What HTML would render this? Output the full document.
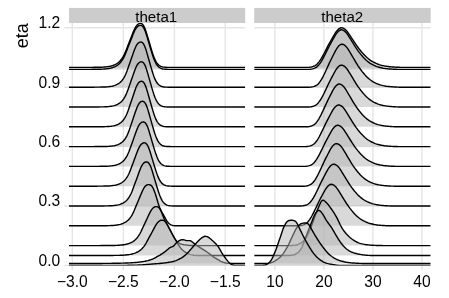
<!DOCTYPE html>
<html><head><meta charset="utf-8"><title>ridges</title>
<style>
html,body{margin:0;padding:0;background:#fff;}
body{width:449px;height:298px;overflow:hidden;font-family:"Liberation Sans",sans-serif;}
.t{font-family:"Liberation Sans",sans-serif;fill:#000;}
</style></head><body>
<svg width="449" height="298" viewBox="0 0 449 298" style="display:block;will-change:transform">
<rect width="449" height="298" fill="#fff"/>
<line x1="64.3" x2="245.2" y1="27.80" y2="27.80" stroke="#e5e5e5" stroke-width="1.4"/>
<line x1="64.3" x2="245.2" y1="87.20" y2="87.20" stroke="#e5e5e5" stroke-width="1.4"/>
<line x1="64.3" x2="245.2" y1="146.60" y2="146.60" stroke="#e5e5e5" stroke-width="1.4"/>
<line x1="64.3" x2="245.2" y1="206.00" y2="206.00" stroke="#e5e5e5" stroke-width="1.4"/>
<line x1="64.3" x2="245.2" y1="265.40" y2="265.40" stroke="#e5e5e5" stroke-width="1.4"/>
<line x1="72.3" x2="72.3" y1="23.0" y2="270.09999999999997" stroke="#e5e5e5" stroke-width="1.4"/>
<line x1="123.35" x2="123.35" y1="23.0" y2="270.09999999999997" stroke="#e5e5e5" stroke-width="1.4"/>
<line x1="174.4" x2="174.4" y1="23.0" y2="270.09999999999997" stroke="#e5e5e5" stroke-width="1.4"/>
<line x1="225.2" x2="225.2" y1="23.0" y2="270.09999999999997" stroke="#e5e5e5" stroke-width="1.4"/>
<line x1="254.2" x2="430.7" y1="27.80" y2="27.80" stroke="#e5e5e5" stroke-width="1.4"/>
<line x1="254.2" x2="430.7" y1="87.20" y2="87.20" stroke="#e5e5e5" stroke-width="1.4"/>
<line x1="254.2" x2="430.7" y1="146.60" y2="146.60" stroke="#e5e5e5" stroke-width="1.4"/>
<line x1="254.2" x2="430.7" y1="206.00" y2="206.00" stroke="#e5e5e5" stroke-width="1.4"/>
<line x1="254.2" x2="430.7" y1="265.40" y2="265.40" stroke="#e5e5e5" stroke-width="1.4"/>
<line x1="274.9" x2="274.9" y1="23.0" y2="270.09999999999997" stroke="#e5e5e5" stroke-width="1.4"/>
<line x1="323.9" x2="323.9" y1="23.0" y2="270.09999999999997" stroke="#e5e5e5" stroke-width="1.4"/>
<line x1="372.9" x2="372.9" y1="23.0" y2="270.09999999999997" stroke="#e5e5e5" stroke-width="1.4"/>
<line x1="421.9" x2="421.9" y1="23.0" y2="270.09999999999997" stroke="#e5e5e5" stroke-width="1.4"/>
<rect x="69.0" y="7.9" width="176.2" height="15.1" fill="#cccccc"/>
<text x="156.2" y="21.6" font-size="15.1" text-anchor="middle" class="t">theta1</text>
<rect x="254.2" y="7.9" width="176.5" height="15.1" fill="#cccccc"/>
<text x="342.2" y="21.6" font-size="15.1" text-anchor="middle" class="t">theta2</text>
<clipPath id="c1"><rect x="69.0" y="23.0" width="176.2" height="242.39999999999998"/></clipPath>
<g clip-path="url(#c1)">
<polygon points="69.0,67.40 69.0,67.40 70.0,67.40 71.0,67.40 72.0,67.40 73.0,67.40 74.0,67.40 75.0,67.40 76.0,67.40 77.0,67.40 78.0,67.40 79.0,67.40 80.0,67.40 81.0,67.40 82.0,67.40 83.0,67.40 84.0,67.40 85.0,67.39 86.0,67.39 87.0,67.38 88.0,67.38 89.0,67.37 90.0,67.37 91.0,67.36 92.0,67.35 93.0,67.34 94.0,67.33 95.0,67.32 96.0,67.30 97.0,67.29 98.0,67.27 99.0,67.26 100.0,67.24 101.0,67.21 102.0,67.18 103.0,67.13 104.0,67.06 105.0,66.97 106.0,66.86 107.0,66.74 108.0,66.61 109.0,66.45 110.0,66.27 111.0,66.04 112.0,65.75 113.0,65.41 114.0,65.02 115.0,64.58 116.0,64.09 117.0,63.51 118.0,62.82 119.0,62.00 120.0,61.01 121.0,59.83 122.0,58.47 123.0,56.90 124.0,55.07 125.0,52.91 126.0,50.47 127.0,47.89 128.0,45.32 129.0,42.80 130.0,40.30 131.0,37.75 132.0,35.16 133.0,32.60 134.0,30.20 135.0,28.09 136.0,26.38 137.0,25.12 138.0,24.25 139.0,23.69 140.0,23.40 141.0,23.41 142.0,23.82 143.0,24.77 144.0,26.36 145.0,28.61 146.0,31.44 147.0,34.67 148.0,38.06 149.0,41.44 150.0,44.78 151.0,48.11 152.0,51.37 153.0,54.44 154.0,57.20 155.0,59.57 156.0,61.53 157.0,63.09 158.0,64.31 159.0,65.24 160.0,65.92 161.0,66.41 162.0,66.76 163.0,67.00 164.0,67.16 165.0,67.25 166.0,67.31 167.0,67.35 168.0,67.37 169.0,67.39 170.0,67.40 171.0,67.40 172.0,67.40 173.0,67.40 174.0,67.40 175.0,67.40 176.0,67.40 177.0,67.40 178.0,67.40 179.0,67.40 180.0,67.40 181.0,67.40 182.0,67.40 183.0,67.40 184.0,67.40 185.0,67.40 186.0,67.40 187.0,67.40 188.0,67.40 189.0,67.40 190.0,67.40 191.0,67.40 192.0,67.40 193.0,67.40 194.0,67.40 195.0,67.40 196.0,67.40 197.0,67.40 198.0,67.40 199.0,67.40 200.0,67.40 201.0,67.40 202.0,67.40 203.0,67.40 204.0,67.40 205.0,67.40 206.0,67.40 207.0,67.40 208.0,67.40 209.0,67.40 210.0,67.40 211.0,67.40 212.0,67.40 213.0,67.40 214.0,67.40 215.0,67.40 216.0,67.40 217.0,67.40 218.0,67.40 219.0,67.40 220.0,67.40 221.0,67.40 222.0,67.40 223.0,67.40 224.0,67.40 225.0,67.40 226.0,67.40 227.0,67.40 228.0,67.40 229.0,67.40 230.0,67.40 231.0,67.40 232.0,67.40 233.0,67.40 234.0,67.40 235.0,67.40 236.0,67.40 237.0,67.40 238.0,67.40 239.0,67.40 240.0,67.40 241.0,67.40 242.0,67.40 243.0,67.40 244.0,67.40 245.2,67.40 245.2,67.40" fill="#b3b3b3" fill-opacity="0.5"/>
<polyline points="69.0,67.40 70.0,67.40 71.0,67.40 72.0,67.40 73.0,67.40 74.0,67.40 75.0,67.40 76.0,67.40 77.0,67.40 78.0,67.40 79.0,67.40 80.0,67.40 81.0,67.40 82.0,67.40 83.0,67.40 84.0,67.40 85.0,67.39 86.0,67.39 87.0,67.38 88.0,67.38 89.0,67.37 90.0,67.37 91.0,67.36 92.0,67.35 93.0,67.34 94.0,67.33 95.0,67.32 96.0,67.30 97.0,67.29 98.0,67.27 99.0,67.26 100.0,67.24 101.0,67.21 102.0,67.18 103.0,67.13 104.0,67.06 105.0,66.97 106.0,66.86 107.0,66.74 108.0,66.61 109.0,66.45 110.0,66.27 111.0,66.04 112.0,65.75 113.0,65.41 114.0,65.02 115.0,64.58 116.0,64.09 117.0,63.51 118.0,62.82 119.0,62.00 120.0,61.01 121.0,59.83 122.0,58.47 123.0,56.90 124.0,55.07 125.0,52.91 126.0,50.47 127.0,47.89 128.0,45.32 129.0,42.80 130.0,40.30 131.0,37.75 132.0,35.16 133.0,32.60 134.0,30.20 135.0,28.09 136.0,26.38 137.0,25.12 138.0,24.25 139.0,23.69 140.0,23.40 141.0,23.41 142.0,23.82 143.0,24.77 144.0,26.36 145.0,28.61 146.0,31.44 147.0,34.67 148.0,38.06 149.0,41.44 150.0,44.78 151.0,48.11 152.0,51.37 153.0,54.44 154.0,57.20 155.0,59.57 156.0,61.53 157.0,63.09 158.0,64.31 159.0,65.24 160.0,65.92 161.0,66.41 162.0,66.76 163.0,67.00 164.0,67.16 165.0,67.25 166.0,67.31 167.0,67.35 168.0,67.37 169.0,67.39 170.0,67.40 171.0,67.40 172.0,67.40 173.0,67.40 174.0,67.40 175.0,67.40 176.0,67.40 177.0,67.40 178.0,67.40 179.0,67.40 180.0,67.40 181.0,67.40 182.0,67.40 183.0,67.40 184.0,67.40 185.0,67.40 186.0,67.40 187.0,67.40 188.0,67.40 189.0,67.40 190.0,67.40 191.0,67.40 192.0,67.40 193.0,67.40 194.0,67.40 195.0,67.40 196.0,67.40 197.0,67.40 198.0,67.40 199.0,67.40 200.0,67.40 201.0,67.40 202.0,67.40 203.0,67.40 204.0,67.40 205.0,67.40 206.0,67.40 207.0,67.40 208.0,67.40 209.0,67.40 210.0,67.40 211.0,67.40 212.0,67.40 213.0,67.40 214.0,67.40 215.0,67.40 216.0,67.40 217.0,67.40 218.0,67.40 219.0,67.40 220.0,67.40 221.0,67.40 222.0,67.40 223.0,67.40 224.0,67.40 225.0,67.40 226.0,67.40 227.0,67.40 228.0,67.40 229.0,67.40 230.0,67.40 231.0,67.40 232.0,67.40 233.0,67.40 234.0,67.40 235.0,67.40 236.0,67.40 237.0,67.40 238.0,67.40 239.0,67.40 240.0,67.40 241.0,67.40 242.0,67.40 243.0,67.40 244.0,67.40 245.2,67.40" fill="none" stroke="#000" stroke-width="1.42" stroke-linejoin="round"/>
<polygon points="69.0,69.38 69.0,69.38 70.0,69.38 71.0,69.38 72.0,69.38 73.0,69.38 74.0,69.38 75.0,69.38 76.0,69.38 77.0,69.38 78.0,69.38 79.0,69.38 80.0,69.38 81.0,69.38 82.0,69.38 83.0,69.38 84.0,69.38 85.0,69.37 86.0,69.37 87.0,69.36 88.0,69.36 89.0,69.35 90.0,69.35 91.0,69.34 92.0,69.33 93.0,69.32 94.0,69.31 95.0,69.30 96.0,69.28 97.0,69.27 98.0,69.25 99.0,69.24 100.0,69.22 101.0,69.19 102.0,69.16 103.0,69.11 104.0,69.04 105.0,68.95 106.0,68.84 107.0,68.72 108.0,68.59 109.0,68.43 110.0,68.25 111.0,68.02 112.0,67.73 113.0,67.39 114.0,67.00 115.0,66.56 116.0,66.07 117.0,65.49 118.0,64.80 119.0,63.98 120.0,62.99 121.0,61.81 122.0,60.45 123.0,58.88 124.0,57.05 125.0,54.89 126.0,52.45 127.0,49.87 128.0,47.30 129.0,44.78 130.0,42.28 131.0,39.73 132.0,37.14 133.0,34.58 134.0,32.18 135.0,30.07 136.0,28.36 137.0,27.10 138.0,26.23 139.0,25.67 140.0,25.38 141.0,25.39 142.0,25.80 143.0,26.75 144.0,28.34 145.0,30.59 146.0,33.42 147.0,36.65 148.0,40.04 149.0,43.42 150.0,46.76 151.0,50.09 152.0,53.35 153.0,56.42 154.0,59.18 155.0,61.55 156.0,63.51 157.0,65.07 158.0,66.29 159.0,67.22 160.0,67.90 161.0,68.39 162.0,68.74 163.0,68.98 164.0,69.14 165.0,69.23 166.0,69.29 167.0,69.33 168.0,69.35 169.0,69.37 170.0,69.38 171.0,69.38 172.0,69.38 173.0,69.38 174.0,69.38 175.0,69.38 176.0,69.38 177.0,69.38 178.0,69.38 179.0,69.38 180.0,69.38 181.0,69.38 182.0,69.38 183.0,69.38 184.0,69.38 185.0,69.38 186.0,69.38 187.0,69.38 188.0,69.38 189.0,69.38 190.0,69.38 191.0,69.38 192.0,69.38 193.0,69.38 194.0,69.38 195.0,69.38 196.0,69.38 197.0,69.38 198.0,69.38 199.0,69.38 200.0,69.38 201.0,69.38 202.0,69.38 203.0,69.38 204.0,69.38 205.0,69.38 206.0,69.38 207.0,69.38 208.0,69.38 209.0,69.38 210.0,69.38 211.0,69.38 212.0,69.38 213.0,69.38 214.0,69.38 215.0,69.38 216.0,69.38 217.0,69.38 218.0,69.38 219.0,69.38 220.0,69.38 221.0,69.38 222.0,69.38 223.0,69.38 224.0,69.38 225.0,69.38 226.0,69.38 227.0,69.38 228.0,69.38 229.0,69.38 230.0,69.38 231.0,69.38 232.0,69.38 233.0,69.38 234.0,69.38 235.0,69.38 236.0,69.38 237.0,69.38 238.0,69.38 239.0,69.38 240.0,69.38 241.0,69.38 242.0,69.38 243.0,69.38 244.0,69.38 245.2,69.38 245.2,69.38" fill="#b3b3b3" fill-opacity="0.5"/>
<polyline points="69.0,69.38 70.0,69.38 71.0,69.38 72.0,69.38 73.0,69.38 74.0,69.38 75.0,69.38 76.0,69.38 77.0,69.38 78.0,69.38 79.0,69.38 80.0,69.38 81.0,69.38 82.0,69.38 83.0,69.38 84.0,69.38 85.0,69.37 86.0,69.37 87.0,69.36 88.0,69.36 89.0,69.35 90.0,69.35 91.0,69.34 92.0,69.33 93.0,69.32 94.0,69.31 95.0,69.30 96.0,69.28 97.0,69.27 98.0,69.25 99.0,69.24 100.0,69.22 101.0,69.19 102.0,69.16 103.0,69.11 104.0,69.04 105.0,68.95 106.0,68.84 107.0,68.72 108.0,68.59 109.0,68.43 110.0,68.25 111.0,68.02 112.0,67.73 113.0,67.39 114.0,67.00 115.0,66.56 116.0,66.07 117.0,65.49 118.0,64.80 119.0,63.98 120.0,62.99 121.0,61.81 122.0,60.45 123.0,58.88 124.0,57.05 125.0,54.89 126.0,52.45 127.0,49.87 128.0,47.30 129.0,44.78 130.0,42.28 131.0,39.73 132.0,37.14 133.0,34.58 134.0,32.18 135.0,30.07 136.0,28.36 137.0,27.10 138.0,26.23 139.0,25.67 140.0,25.38 141.0,25.39 142.0,25.80 143.0,26.75 144.0,28.34 145.0,30.59 146.0,33.42 147.0,36.65 148.0,40.04 149.0,43.42 150.0,46.76 151.0,50.09 152.0,53.35 153.0,56.42 154.0,59.18 155.0,61.55 156.0,63.51 157.0,65.07 158.0,66.29 159.0,67.22 160.0,67.90 161.0,68.39 162.0,68.74 163.0,68.98 164.0,69.14 165.0,69.23 166.0,69.29 167.0,69.33 168.0,69.35 169.0,69.37 170.0,69.38 171.0,69.38 172.0,69.38 173.0,69.38 174.0,69.38 175.0,69.38 176.0,69.38 177.0,69.38 178.0,69.38 179.0,69.38 180.0,69.38 181.0,69.38 182.0,69.38 183.0,69.38 184.0,69.38 185.0,69.38 186.0,69.38 187.0,69.38 188.0,69.38 189.0,69.38 190.0,69.38 191.0,69.38 192.0,69.38 193.0,69.38 194.0,69.38 195.0,69.38 196.0,69.38 197.0,69.38 198.0,69.38 199.0,69.38 200.0,69.38 201.0,69.38 202.0,69.38 203.0,69.38 204.0,69.38 205.0,69.38 206.0,69.38 207.0,69.38 208.0,69.38 209.0,69.38 210.0,69.38 211.0,69.38 212.0,69.38 213.0,69.38 214.0,69.38 215.0,69.38 216.0,69.38 217.0,69.38 218.0,69.38 219.0,69.38 220.0,69.38 221.0,69.38 222.0,69.38 223.0,69.38 224.0,69.38 225.0,69.38 226.0,69.38 227.0,69.38 228.0,69.38 229.0,69.38 230.0,69.38 231.0,69.38 232.0,69.38 233.0,69.38 234.0,69.38 235.0,69.38 236.0,69.38 237.0,69.38 238.0,69.38 239.0,69.38 240.0,69.38 241.0,69.38 242.0,69.38 243.0,69.38 244.0,69.38 245.2,69.38" fill="none" stroke="#000" stroke-width="1.42" stroke-linejoin="round"/>
<polygon points="69.0,87.20 69.0,87.20 70.0,87.20 71.0,87.20 72.0,87.20 73.0,87.20 74.0,87.20 75.0,87.20 76.0,87.20 77.0,87.20 78.0,87.20 79.0,87.20 80.0,87.20 81.0,87.20 82.0,87.20 83.0,87.20 84.0,87.20 85.0,87.20 86.0,87.20 87.0,87.20 88.0,87.20 89.0,87.20 90.0,87.19 91.0,87.19 92.0,87.18 93.0,87.18 94.0,87.17 95.0,87.16 96.0,87.15 97.0,87.14 98.0,87.13 99.0,87.11 100.0,87.10 101.0,87.08 102.0,87.06 103.0,87.05 104.0,87.02 105.0,86.99 106.0,86.94 107.0,86.86 108.0,86.77 109.0,86.65 110.0,86.52 111.0,86.37 112.0,86.19 113.0,85.97 114.0,85.69 115.0,85.34 116.0,84.93 117.0,84.46 118.0,83.93 119.0,83.30 120.0,82.54 121.0,81.62 122.0,80.50 123.0,79.15 124.0,77.58 125.0,75.72 126.0,73.52 127.0,70.95 128.0,68.13 129.0,65.25 130.0,62.42 131.0,59.61 132.0,56.76 133.0,53.87 134.0,51.04 135.0,48.43 136.0,46.22 137.0,44.51 138.0,43.31 139.0,42.53 140.0,42.09 141.0,42.00 142.0,42.33 143.0,43.20 144.0,44.75 145.0,46.99 146.0,49.85 147.0,53.17 148.0,56.69 149.0,60.21 150.0,63.70 151.0,67.16 152.0,70.56 153.0,73.77 154.0,76.65 155.0,79.13 156.0,81.17 157.0,82.79 158.0,84.05 159.0,85.01 160.0,85.71 161.0,86.21 162.0,86.56 163.0,86.80 164.0,86.96 165.0,87.05 166.0,87.11 167.0,87.15 168.0,87.18 169.0,87.19 170.0,87.20 171.0,87.20 172.0,87.20 173.0,87.20 174.0,87.20 175.0,87.20 176.0,87.20 177.0,87.20 178.0,87.20 179.0,87.20 180.0,87.20 181.0,87.20 182.0,87.20 183.0,87.20 184.0,87.20 185.0,87.20 186.0,87.20 187.0,87.20 188.0,87.20 189.0,87.20 190.0,87.20 191.0,87.20 192.0,87.20 193.0,87.20 194.0,87.20 195.0,87.20 196.0,87.20 197.0,87.20 198.0,87.20 199.0,87.20 200.0,87.20 201.0,87.20 202.0,87.20 203.0,87.20 204.0,87.20 205.0,87.20 206.0,87.20 207.0,87.20 208.0,87.20 209.0,87.20 210.0,87.20 211.0,87.20 212.0,87.20 213.0,87.20 214.0,87.20 215.0,87.20 216.0,87.20 217.0,87.20 218.0,87.20 219.0,87.20 220.0,87.20 221.0,87.20 222.0,87.20 223.0,87.20 224.0,87.20 225.0,87.20 226.0,87.20 227.0,87.20 228.0,87.20 229.0,87.20 230.0,87.20 231.0,87.20 232.0,87.20 233.0,87.20 234.0,87.20 235.0,87.20 236.0,87.20 237.0,87.20 238.0,87.20 239.0,87.20 240.0,87.20 241.0,87.20 242.0,87.20 243.0,87.20 244.0,87.20 245.2,87.20 245.2,87.20" fill="#b3b3b3" fill-opacity="0.5"/>
<polyline points="69.0,87.20 70.0,87.20 71.0,87.20 72.0,87.20 73.0,87.20 74.0,87.20 75.0,87.20 76.0,87.20 77.0,87.20 78.0,87.20 79.0,87.20 80.0,87.20 81.0,87.20 82.0,87.20 83.0,87.20 84.0,87.20 85.0,87.20 86.0,87.20 87.0,87.20 88.0,87.20 89.0,87.20 90.0,87.19 91.0,87.19 92.0,87.18 93.0,87.18 94.0,87.17 95.0,87.16 96.0,87.15 97.0,87.14 98.0,87.13 99.0,87.11 100.0,87.10 101.0,87.08 102.0,87.06 103.0,87.05 104.0,87.02 105.0,86.99 106.0,86.94 107.0,86.86 108.0,86.77 109.0,86.65 110.0,86.52 111.0,86.37 112.0,86.19 113.0,85.97 114.0,85.69 115.0,85.34 116.0,84.93 117.0,84.46 118.0,83.93 119.0,83.30 120.0,82.54 121.0,81.62 122.0,80.50 123.0,79.15 124.0,77.58 125.0,75.72 126.0,73.52 127.0,70.95 128.0,68.13 129.0,65.25 130.0,62.42 131.0,59.61 132.0,56.76 133.0,53.87 134.0,51.04 135.0,48.43 136.0,46.22 137.0,44.51 138.0,43.31 139.0,42.53 140.0,42.09 141.0,42.00 142.0,42.33 143.0,43.20 144.0,44.75 145.0,46.99 146.0,49.85 147.0,53.17 148.0,56.69 149.0,60.21 150.0,63.70 151.0,67.16 152.0,70.56 153.0,73.77 154.0,76.65 155.0,79.13 156.0,81.17 157.0,82.79 158.0,84.05 159.0,85.01 160.0,85.71 161.0,86.21 162.0,86.56 163.0,86.80 164.0,86.96 165.0,87.05 166.0,87.11 167.0,87.15 168.0,87.18 169.0,87.19 170.0,87.20 171.0,87.20 172.0,87.20 173.0,87.20 174.0,87.20 175.0,87.20 176.0,87.20 177.0,87.20 178.0,87.20 179.0,87.20 180.0,87.20 181.0,87.20 182.0,87.20 183.0,87.20 184.0,87.20 185.0,87.20 186.0,87.20 187.0,87.20 188.0,87.20 189.0,87.20 190.0,87.20 191.0,87.20 192.0,87.20 193.0,87.20 194.0,87.20 195.0,87.20 196.0,87.20 197.0,87.20 198.0,87.20 199.0,87.20 200.0,87.20 201.0,87.20 202.0,87.20 203.0,87.20 204.0,87.20 205.0,87.20 206.0,87.20 207.0,87.20 208.0,87.20 209.0,87.20 210.0,87.20 211.0,87.20 212.0,87.20 213.0,87.20 214.0,87.20 215.0,87.20 216.0,87.20 217.0,87.20 218.0,87.20 219.0,87.20 220.0,87.20 221.0,87.20 222.0,87.20 223.0,87.20 224.0,87.20 225.0,87.20 226.0,87.20 227.0,87.20 228.0,87.20 229.0,87.20 230.0,87.20 231.0,87.20 232.0,87.20 233.0,87.20 234.0,87.20 235.0,87.20 236.0,87.20 237.0,87.20 238.0,87.20 239.0,87.20 240.0,87.20 241.0,87.20 242.0,87.20 243.0,87.20 244.0,87.20 245.2,87.20" fill="none" stroke="#000" stroke-width="1.42" stroke-linejoin="round"/>
<polygon points="69.0,107.00 69.0,107.00 70.0,107.00 71.0,107.00 72.0,107.00 73.0,107.00 74.0,107.00 75.0,107.00 76.0,107.00 77.0,107.00 78.0,107.00 79.0,107.00 80.0,107.00 81.0,107.00 82.0,107.00 83.0,107.00 84.0,107.00 85.0,107.00 86.0,107.00 87.0,107.00 88.0,107.00 89.0,107.00 90.0,106.99 91.0,106.99 92.0,106.99 93.0,106.98 94.0,106.97 95.0,106.96 96.0,106.96 97.0,106.94 98.0,106.93 99.0,106.92 100.0,106.91 101.0,106.89 102.0,106.88 103.0,106.86 104.0,106.84 105.0,106.81 106.0,106.77 107.0,106.71 108.0,106.63 109.0,106.53 110.0,106.40 111.0,106.26 112.0,106.10 113.0,105.91 114.0,105.67 115.0,105.36 116.0,104.99 117.0,104.55 118.0,104.06 119.0,103.49 120.0,102.81 121.0,101.99 122.0,100.99 123.0,99.79 124.0,98.35 125.0,96.67 126.0,94.68 127.0,92.32 128.0,89.63 129.0,86.77 130.0,83.91 131.0,81.09 132.0,78.27 133.0,75.39 134.0,72.51 135.0,69.75 136.0,67.28 137.0,65.26 138.0,63.76 139.0,62.74 140.0,62.10 141.0,61.80 142.0,61.86 143.0,62.39 144.0,63.52 145.0,65.35 146.0,67.86 147.0,70.93 148.0,74.36 149.0,77.90 150.0,81.40 151.0,84.88 152.0,88.33 153.0,91.67 154.0,94.76 155.0,97.49 156.0,99.79 157.0,101.66 158.0,103.13 159.0,104.27 160.0,105.12 161.0,105.73 162.0,106.16 163.0,106.47 164.0,106.68 165.0,106.80 166.0,106.88 167.0,106.93 168.0,106.96 169.0,106.98 170.0,106.99 171.0,107.00 172.0,107.00 173.0,107.00 174.0,107.00 175.0,107.00 176.0,107.00 177.0,107.00 178.0,107.00 179.0,107.00 180.0,107.00 181.0,107.00 182.0,107.00 183.0,107.00 184.0,107.00 185.0,107.00 186.0,107.00 187.0,107.00 188.0,107.00 189.0,107.00 190.0,107.00 191.0,107.00 192.0,107.00 193.0,107.00 194.0,107.00 195.0,107.00 196.0,107.00 197.0,107.00 198.0,107.00 199.0,107.00 200.0,107.00 201.0,107.00 202.0,107.00 203.0,107.00 204.0,107.00 205.0,107.00 206.0,107.00 207.0,107.00 208.0,107.00 209.0,107.00 210.0,107.00 211.0,107.00 212.0,107.00 213.0,107.00 214.0,107.00 215.0,107.00 216.0,107.00 217.0,107.00 218.0,107.00 219.0,107.00 220.0,107.00 221.0,107.00 222.0,107.00 223.0,107.00 224.0,107.00 225.0,107.00 226.0,107.00 227.0,107.00 228.0,107.00 229.0,107.00 230.0,107.00 231.0,107.00 232.0,107.00 233.0,107.00 234.0,107.00 235.0,107.00 236.0,107.00 237.0,107.00 238.0,107.00 239.0,107.00 240.0,107.00 241.0,107.00 242.0,107.00 243.0,107.00 244.0,107.00 245.2,107.00 245.2,107.00" fill="#b3b3b3" fill-opacity="0.5"/>
<polyline points="69.0,107.00 70.0,107.00 71.0,107.00 72.0,107.00 73.0,107.00 74.0,107.00 75.0,107.00 76.0,107.00 77.0,107.00 78.0,107.00 79.0,107.00 80.0,107.00 81.0,107.00 82.0,107.00 83.0,107.00 84.0,107.00 85.0,107.00 86.0,107.00 87.0,107.00 88.0,107.00 89.0,107.00 90.0,106.99 91.0,106.99 92.0,106.99 93.0,106.98 94.0,106.97 95.0,106.96 96.0,106.96 97.0,106.94 98.0,106.93 99.0,106.92 100.0,106.91 101.0,106.89 102.0,106.88 103.0,106.86 104.0,106.84 105.0,106.81 106.0,106.77 107.0,106.71 108.0,106.63 109.0,106.53 110.0,106.40 111.0,106.26 112.0,106.10 113.0,105.91 114.0,105.67 115.0,105.36 116.0,104.99 117.0,104.55 118.0,104.06 119.0,103.49 120.0,102.81 121.0,101.99 122.0,100.99 123.0,99.79 124.0,98.35 125.0,96.67 126.0,94.68 127.0,92.32 128.0,89.63 129.0,86.77 130.0,83.91 131.0,81.09 132.0,78.27 133.0,75.39 134.0,72.51 135.0,69.75 136.0,67.28 137.0,65.26 138.0,63.76 139.0,62.74 140.0,62.10 141.0,61.80 142.0,61.86 143.0,62.39 144.0,63.52 145.0,65.35 146.0,67.86 147.0,70.93 148.0,74.36 149.0,77.90 150.0,81.40 151.0,84.88 152.0,88.33 153.0,91.67 154.0,94.76 155.0,97.49 156.0,99.79 157.0,101.66 158.0,103.13 159.0,104.27 160.0,105.12 161.0,105.73 162.0,106.16 163.0,106.47 164.0,106.68 165.0,106.80 166.0,106.88 167.0,106.93 168.0,106.96 169.0,106.98 170.0,106.99 171.0,107.00 172.0,107.00 173.0,107.00 174.0,107.00 175.0,107.00 176.0,107.00 177.0,107.00 178.0,107.00 179.0,107.00 180.0,107.00 181.0,107.00 182.0,107.00 183.0,107.00 184.0,107.00 185.0,107.00 186.0,107.00 187.0,107.00 188.0,107.00 189.0,107.00 190.0,107.00 191.0,107.00 192.0,107.00 193.0,107.00 194.0,107.00 195.0,107.00 196.0,107.00 197.0,107.00 198.0,107.00 199.0,107.00 200.0,107.00 201.0,107.00 202.0,107.00 203.0,107.00 204.0,107.00 205.0,107.00 206.0,107.00 207.0,107.00 208.0,107.00 209.0,107.00 210.0,107.00 211.0,107.00 212.0,107.00 213.0,107.00 214.0,107.00 215.0,107.00 216.0,107.00 217.0,107.00 218.0,107.00 219.0,107.00 220.0,107.00 221.0,107.00 222.0,107.00 223.0,107.00 224.0,107.00 225.0,107.00 226.0,107.00 227.0,107.00 228.0,107.00 229.0,107.00 230.0,107.00 231.0,107.00 232.0,107.00 233.0,107.00 234.0,107.00 235.0,107.00 236.0,107.00 237.0,107.00 238.0,107.00 239.0,107.00 240.0,107.00 241.0,107.00 242.0,107.00 243.0,107.00 244.0,107.00 245.2,107.00" fill="none" stroke="#000" stroke-width="1.42" stroke-linejoin="round"/>
<polygon points="69.0,126.80 69.0,126.80 70.0,126.80 71.0,126.80 72.0,126.80 73.0,126.80 74.0,126.80 75.0,126.80 76.0,126.80 77.0,126.80 78.0,126.80 79.0,126.80 80.0,126.80 81.0,126.80 82.0,126.80 83.0,126.80 84.0,126.80 85.0,126.80 86.0,126.80 87.0,126.80 88.0,126.80 89.0,126.80 90.0,126.80 91.0,126.80 92.0,126.79 93.0,126.79 94.0,126.78 95.0,126.78 96.0,126.77 97.0,126.76 98.0,126.75 99.0,126.74 100.0,126.73 101.0,126.71 102.0,126.70 103.0,126.68 104.0,126.67 105.0,126.65 106.0,126.62 107.0,126.58 108.0,126.53 109.0,126.45 110.0,126.35 111.0,126.23 112.0,126.08 113.0,125.92 114.0,125.72 115.0,125.47 116.0,125.16 117.0,124.77 118.0,124.32 119.0,123.80 120.0,123.19 121.0,122.47 122.0,121.58 123.0,120.50 124.0,119.18 125.0,117.61 126.0,115.76 127.0,113.56 128.0,110.96 129.0,108.06 130.0,105.06 131.0,102.09 132.0,99.15 133.0,96.18 134.0,93.16 135.0,90.23 136.0,87.54 137.0,85.29 138.0,83.58 139.0,82.40 140.0,81.67 141.0,81.30 142.0,81.31 143.0,81.79 144.0,82.87 145.0,84.65 146.0,87.13 147.0,90.19 148.0,93.63 149.0,97.21 150.0,100.76 151.0,104.27 152.0,107.77 153.0,111.15 154.0,114.29 155.0,117.07 156.0,119.43 157.0,121.33 158.0,122.84 159.0,124.00 160.0,124.88 161.0,125.50 162.0,125.94 163.0,126.26 164.0,126.47 165.0,126.60 166.0,126.68 167.0,126.73 168.0,126.76 169.0,126.78 170.0,126.79 171.0,126.80 172.0,126.80 173.0,126.80 174.0,126.80 175.0,126.80 176.0,126.80 177.0,126.80 178.0,126.80 179.0,126.80 180.0,126.80 181.0,126.80 182.0,126.80 183.0,126.80 184.0,126.80 185.0,126.80 186.0,126.80 187.0,126.80 188.0,126.80 189.0,126.80 190.0,126.80 191.0,126.80 192.0,126.80 193.0,126.80 194.0,126.80 195.0,126.80 196.0,126.80 197.0,126.80 198.0,126.80 199.0,126.80 200.0,126.80 201.0,126.80 202.0,126.80 203.0,126.80 204.0,126.80 205.0,126.80 206.0,126.80 207.0,126.80 208.0,126.80 209.0,126.80 210.0,126.80 211.0,126.80 212.0,126.80 213.0,126.80 214.0,126.80 215.0,126.80 216.0,126.80 217.0,126.80 218.0,126.80 219.0,126.80 220.0,126.80 221.0,126.80 222.0,126.80 223.0,126.80 224.0,126.80 225.0,126.80 226.0,126.80 227.0,126.80 228.0,126.80 229.0,126.80 230.0,126.80 231.0,126.80 232.0,126.80 233.0,126.80 234.0,126.80 235.0,126.80 236.0,126.80 237.0,126.80 238.0,126.80 239.0,126.80 240.0,126.80 241.0,126.80 242.0,126.80 243.0,126.80 244.0,126.80 245.2,126.80 245.2,126.80" fill="#b3b3b3" fill-opacity="0.5"/>
<polyline points="69.0,126.80 70.0,126.80 71.0,126.80 72.0,126.80 73.0,126.80 74.0,126.80 75.0,126.80 76.0,126.80 77.0,126.80 78.0,126.80 79.0,126.80 80.0,126.80 81.0,126.80 82.0,126.80 83.0,126.80 84.0,126.80 85.0,126.80 86.0,126.80 87.0,126.80 88.0,126.80 89.0,126.80 90.0,126.80 91.0,126.80 92.0,126.79 93.0,126.79 94.0,126.78 95.0,126.78 96.0,126.77 97.0,126.76 98.0,126.75 99.0,126.74 100.0,126.73 101.0,126.71 102.0,126.70 103.0,126.68 104.0,126.67 105.0,126.65 106.0,126.62 107.0,126.58 108.0,126.53 109.0,126.45 110.0,126.35 111.0,126.23 112.0,126.08 113.0,125.92 114.0,125.72 115.0,125.47 116.0,125.16 117.0,124.77 118.0,124.32 119.0,123.80 120.0,123.19 121.0,122.47 122.0,121.58 123.0,120.50 124.0,119.18 125.0,117.61 126.0,115.76 127.0,113.56 128.0,110.96 129.0,108.06 130.0,105.06 131.0,102.09 132.0,99.15 133.0,96.18 134.0,93.16 135.0,90.23 136.0,87.54 137.0,85.29 138.0,83.58 139.0,82.40 140.0,81.67 141.0,81.30 142.0,81.31 143.0,81.79 144.0,82.87 145.0,84.65 146.0,87.13 147.0,90.19 148.0,93.63 149.0,97.21 150.0,100.76 151.0,104.27 152.0,107.77 153.0,111.15 154.0,114.29 155.0,117.07 156.0,119.43 157.0,121.33 158.0,122.84 159.0,124.00 160.0,124.88 161.0,125.50 162.0,125.94 163.0,126.26 164.0,126.47 165.0,126.60 166.0,126.68 167.0,126.73 168.0,126.76 169.0,126.78 170.0,126.79 171.0,126.80 172.0,126.80 173.0,126.80 174.0,126.80 175.0,126.80 176.0,126.80 177.0,126.80 178.0,126.80 179.0,126.80 180.0,126.80 181.0,126.80 182.0,126.80 183.0,126.80 184.0,126.80 185.0,126.80 186.0,126.80 187.0,126.80 188.0,126.80 189.0,126.80 190.0,126.80 191.0,126.80 192.0,126.80 193.0,126.80 194.0,126.80 195.0,126.80 196.0,126.80 197.0,126.80 198.0,126.80 199.0,126.80 200.0,126.80 201.0,126.80 202.0,126.80 203.0,126.80 204.0,126.80 205.0,126.80 206.0,126.80 207.0,126.80 208.0,126.80 209.0,126.80 210.0,126.80 211.0,126.80 212.0,126.80 213.0,126.80 214.0,126.80 215.0,126.80 216.0,126.80 217.0,126.80 218.0,126.80 219.0,126.80 220.0,126.80 221.0,126.80 222.0,126.80 223.0,126.80 224.0,126.80 225.0,126.80 226.0,126.80 227.0,126.80 228.0,126.80 229.0,126.80 230.0,126.80 231.0,126.80 232.0,126.80 233.0,126.80 234.0,126.80 235.0,126.80 236.0,126.80 237.0,126.80 238.0,126.80 239.0,126.80 240.0,126.80 241.0,126.80 242.0,126.80 243.0,126.80 244.0,126.80 245.2,126.80" fill="none" stroke="#000" stroke-width="1.42" stroke-linejoin="round"/>
<polygon points="69.0,146.60 69.0,146.60 70.0,146.60 71.0,146.60 72.0,146.60 73.0,146.60 74.0,146.60 75.0,146.60 76.0,146.60 77.0,146.60 78.0,146.60 79.0,146.60 80.0,146.60 81.0,146.60 82.0,146.60 83.0,146.60 84.0,146.60 85.0,146.60 86.0,146.60 87.0,146.60 88.0,146.60 89.0,146.60 90.0,146.60 91.0,146.60 92.0,146.60 93.0,146.59 94.0,146.59 95.0,146.58 96.0,146.58 97.0,146.57 98.0,146.56 99.0,146.55 100.0,146.54 101.0,146.53 102.0,146.51 103.0,146.50 104.0,146.48 105.0,146.46 106.0,146.44 107.0,146.42 108.0,146.38 109.0,146.33 110.0,146.25 111.0,146.14 112.0,146.02 113.0,145.88 114.0,145.71 115.0,145.51 116.0,145.26 117.0,144.95 118.0,144.56 119.0,144.10 120.0,143.58 121.0,142.98 122.0,142.25 123.0,141.36 124.0,140.27 125.0,138.96 126.0,137.39 127.0,135.54 128.0,133.34 129.0,130.74 130.0,127.86 131.0,124.88 132.0,121.93 133.0,119.01 134.0,116.05 135.0,113.06 136.0,110.15 137.0,107.48 138.0,105.25 139.0,103.56 140.0,102.39 141.0,101.67 142.0,101.30 143.0,101.31 144.0,101.78 145.0,102.86 146.0,104.62 147.0,107.08 148.0,110.11 149.0,113.53 150.0,117.08 151.0,120.61 152.0,124.10 153.0,127.57 154.0,130.94 155.0,134.07 156.0,136.84 157.0,139.19 158.0,141.10 159.0,142.61 160.0,143.78 161.0,144.66 162.0,145.29 163.0,145.73 164.0,146.05 165.0,146.26 166.0,146.40 167.0,146.48 168.0,146.53 169.0,146.56 170.0,146.58 171.0,146.59 172.0,146.60 173.0,146.60 174.0,146.60 175.0,146.60 176.0,146.60 177.0,146.60 178.0,146.60 179.0,146.60 180.0,146.60 181.0,146.60 182.0,146.60 183.0,146.60 184.0,146.60 185.0,146.60 186.0,146.60 187.0,146.60 188.0,146.60 189.0,146.60 190.0,146.60 191.0,146.60 192.0,146.60 193.0,146.60 194.0,146.60 195.0,146.60 196.0,146.60 197.0,146.60 198.0,146.60 199.0,146.60 200.0,146.60 201.0,146.60 202.0,146.60 203.0,146.60 204.0,146.60 205.0,146.60 206.0,146.60 207.0,146.60 208.0,146.60 209.0,146.60 210.0,146.60 211.0,146.60 212.0,146.60 213.0,146.60 214.0,146.60 215.0,146.60 216.0,146.60 217.0,146.60 218.0,146.60 219.0,146.60 220.0,146.60 221.0,146.60 222.0,146.60 223.0,146.60 224.0,146.60 225.0,146.60 226.0,146.60 227.0,146.60 228.0,146.60 229.0,146.60 230.0,146.60 231.0,146.60 232.0,146.60 233.0,146.60 234.0,146.60 235.0,146.60 236.0,146.60 237.0,146.60 238.0,146.60 239.0,146.60 240.0,146.60 241.0,146.60 242.0,146.60 243.0,146.60 244.0,146.60 245.2,146.60 245.2,146.60" fill="#b3b3b3" fill-opacity="0.5"/>
<polyline points="69.0,146.60 70.0,146.60 71.0,146.60 72.0,146.60 73.0,146.60 74.0,146.60 75.0,146.60 76.0,146.60 77.0,146.60 78.0,146.60 79.0,146.60 80.0,146.60 81.0,146.60 82.0,146.60 83.0,146.60 84.0,146.60 85.0,146.60 86.0,146.60 87.0,146.60 88.0,146.60 89.0,146.60 90.0,146.60 91.0,146.60 92.0,146.60 93.0,146.59 94.0,146.59 95.0,146.58 96.0,146.58 97.0,146.57 98.0,146.56 99.0,146.55 100.0,146.54 101.0,146.53 102.0,146.51 103.0,146.50 104.0,146.48 105.0,146.46 106.0,146.44 107.0,146.42 108.0,146.38 109.0,146.33 110.0,146.25 111.0,146.14 112.0,146.02 113.0,145.88 114.0,145.71 115.0,145.51 116.0,145.26 117.0,144.95 118.0,144.56 119.0,144.10 120.0,143.58 121.0,142.98 122.0,142.25 123.0,141.36 124.0,140.27 125.0,138.96 126.0,137.39 127.0,135.54 128.0,133.34 129.0,130.74 130.0,127.86 131.0,124.88 132.0,121.93 133.0,119.01 134.0,116.05 135.0,113.06 136.0,110.15 137.0,107.48 138.0,105.25 139.0,103.56 140.0,102.39 141.0,101.67 142.0,101.30 143.0,101.31 144.0,101.78 145.0,102.86 146.0,104.62 147.0,107.08 148.0,110.11 149.0,113.53 150.0,117.08 151.0,120.61 152.0,124.10 153.0,127.57 154.0,130.94 155.0,134.07 156.0,136.84 157.0,139.19 158.0,141.10 159.0,142.61 160.0,143.78 161.0,144.66 162.0,145.29 163.0,145.73 164.0,146.05 165.0,146.26 166.0,146.40 167.0,146.48 168.0,146.53 169.0,146.56 170.0,146.58 171.0,146.59 172.0,146.60 173.0,146.60 174.0,146.60 175.0,146.60 176.0,146.60 177.0,146.60 178.0,146.60 179.0,146.60 180.0,146.60 181.0,146.60 182.0,146.60 183.0,146.60 184.0,146.60 185.0,146.60 186.0,146.60 187.0,146.60 188.0,146.60 189.0,146.60 190.0,146.60 191.0,146.60 192.0,146.60 193.0,146.60 194.0,146.60 195.0,146.60 196.0,146.60 197.0,146.60 198.0,146.60 199.0,146.60 200.0,146.60 201.0,146.60 202.0,146.60 203.0,146.60 204.0,146.60 205.0,146.60 206.0,146.60 207.0,146.60 208.0,146.60 209.0,146.60 210.0,146.60 211.0,146.60 212.0,146.60 213.0,146.60 214.0,146.60 215.0,146.60 216.0,146.60 217.0,146.60 218.0,146.60 219.0,146.60 220.0,146.60 221.0,146.60 222.0,146.60 223.0,146.60 224.0,146.60 225.0,146.60 226.0,146.60 227.0,146.60 228.0,146.60 229.0,146.60 230.0,146.60 231.0,146.60 232.0,146.60 233.0,146.60 234.0,146.60 235.0,146.60 236.0,146.60 237.0,146.60 238.0,146.60 239.0,146.60 240.0,146.60 241.0,146.60 242.0,146.60 243.0,146.60 244.0,146.60 245.2,146.60" fill="none" stroke="#000" stroke-width="1.42" stroke-linejoin="round"/>
<polygon points="69.0,166.40 69.0,166.40 70.0,166.40 71.0,166.40 72.0,166.40 73.0,166.40 74.0,166.40 75.0,166.40 76.0,166.40 77.0,166.40 78.0,166.40 79.0,166.40 80.0,166.40 81.0,166.40 82.0,166.40 83.0,166.40 84.0,166.40 85.0,166.40 86.0,166.40 87.0,166.40 88.0,166.40 89.0,166.40 90.0,166.40 91.0,166.40 92.0,166.39 93.0,166.39 94.0,166.38 95.0,166.38 96.0,166.37 97.0,166.36 98.0,166.35 99.0,166.34 100.0,166.33 101.0,166.32 102.0,166.30 103.0,166.29 104.0,166.27 105.0,166.25 106.0,166.23 107.0,166.20 108.0,166.15 109.0,166.09 110.0,166.00 111.0,165.89 112.0,165.77 113.0,165.62 114.0,165.46 115.0,165.25 116.0,165.00 117.0,164.68 118.0,164.30 119.0,163.86 120.0,163.36 121.0,162.77 122.0,162.08 123.0,161.24 124.0,160.21 125.0,158.98 126.0,157.52 127.0,155.82 128.0,153.80 129.0,151.42 130.0,148.74 131.0,145.93 132.0,143.14 133.0,140.40 134.0,137.63 135.0,134.82 136.0,132.01 137.0,129.35 138.0,126.99 139.0,125.08 140.0,123.68 141.0,122.74 142.0,122.16 143.0,121.90 144.0,122.00 145.0,122.56 146.0,123.72 147.0,125.56 148.0,128.05 149.0,131.08 150.0,134.44 151.0,137.90 152.0,141.33 153.0,144.72 154.0,148.09 155.0,151.35 156.0,154.37 157.0,157.03 158.0,159.29 159.0,161.12 160.0,162.56 161.0,163.68 162.0,164.52 163.0,165.13 164.0,165.56 165.0,165.86 166.0,166.07 167.0,166.20 168.0,166.28 169.0,166.33 170.0,166.36 171.0,166.38 172.0,166.39 173.0,166.40 174.0,166.40 175.0,166.40 176.0,166.40 177.0,166.40 178.0,166.40 179.0,166.40 180.0,166.40 181.0,166.40 182.0,166.40 183.0,166.40 184.0,166.40 185.0,166.40 186.0,166.40 187.0,166.40 188.0,166.40 189.0,166.40 190.0,166.40 191.0,166.40 192.0,166.40 193.0,166.40 194.0,166.40 195.0,166.40 196.0,166.40 197.0,166.40 198.0,166.40 199.0,166.40 200.0,166.40 201.0,166.40 202.0,166.40 203.0,166.40 204.0,166.40 205.0,166.40 206.0,166.40 207.0,166.40 208.0,166.40 209.0,166.40 210.0,166.40 211.0,166.40 212.0,166.40 213.0,166.40 214.0,166.40 215.0,166.40 216.0,166.40 217.0,166.40 218.0,166.40 219.0,166.40 220.0,166.40 221.0,166.40 222.0,166.40 223.0,166.40 224.0,166.40 225.0,166.40 226.0,166.40 227.0,166.40 228.0,166.40 229.0,166.40 230.0,166.40 231.0,166.40 232.0,166.40 233.0,166.40 234.0,166.40 235.0,166.40 236.0,166.40 237.0,166.40 238.0,166.40 239.0,166.40 240.0,166.40 241.0,166.40 242.0,166.40 243.0,166.40 244.0,166.40 245.2,166.40 245.2,166.40" fill="#b3b3b3" fill-opacity="0.5"/>
<polyline points="69.0,166.40 70.0,166.40 71.0,166.40 72.0,166.40 73.0,166.40 74.0,166.40 75.0,166.40 76.0,166.40 77.0,166.40 78.0,166.40 79.0,166.40 80.0,166.40 81.0,166.40 82.0,166.40 83.0,166.40 84.0,166.40 85.0,166.40 86.0,166.40 87.0,166.40 88.0,166.40 89.0,166.40 90.0,166.40 91.0,166.40 92.0,166.39 93.0,166.39 94.0,166.38 95.0,166.38 96.0,166.37 97.0,166.36 98.0,166.35 99.0,166.34 100.0,166.33 101.0,166.32 102.0,166.30 103.0,166.29 104.0,166.27 105.0,166.25 106.0,166.23 107.0,166.20 108.0,166.15 109.0,166.09 110.0,166.00 111.0,165.89 112.0,165.77 113.0,165.62 114.0,165.46 115.0,165.25 116.0,165.00 117.0,164.68 118.0,164.30 119.0,163.86 120.0,163.36 121.0,162.77 122.0,162.08 123.0,161.24 124.0,160.21 125.0,158.98 126.0,157.52 127.0,155.82 128.0,153.80 129.0,151.42 130.0,148.74 131.0,145.93 132.0,143.14 133.0,140.40 134.0,137.63 135.0,134.82 136.0,132.01 137.0,129.35 138.0,126.99 139.0,125.08 140.0,123.68 141.0,122.74 142.0,122.16 143.0,121.90 144.0,122.00 145.0,122.56 146.0,123.72 147.0,125.56 148.0,128.05 149.0,131.08 150.0,134.44 151.0,137.90 152.0,141.33 153.0,144.72 154.0,148.09 155.0,151.35 156.0,154.37 157.0,157.03 158.0,159.29 159.0,161.12 160.0,162.56 161.0,163.68 162.0,164.52 163.0,165.13 164.0,165.56 165.0,165.86 166.0,166.07 167.0,166.20 168.0,166.28 169.0,166.33 170.0,166.36 171.0,166.38 172.0,166.39 173.0,166.40 174.0,166.40 175.0,166.40 176.0,166.40 177.0,166.40 178.0,166.40 179.0,166.40 180.0,166.40 181.0,166.40 182.0,166.40 183.0,166.40 184.0,166.40 185.0,166.40 186.0,166.40 187.0,166.40 188.0,166.40 189.0,166.40 190.0,166.40 191.0,166.40 192.0,166.40 193.0,166.40 194.0,166.40 195.0,166.40 196.0,166.40 197.0,166.40 198.0,166.40 199.0,166.40 200.0,166.40 201.0,166.40 202.0,166.40 203.0,166.40 204.0,166.40 205.0,166.40 206.0,166.40 207.0,166.40 208.0,166.40 209.0,166.40 210.0,166.40 211.0,166.40 212.0,166.40 213.0,166.40 214.0,166.40 215.0,166.40 216.0,166.40 217.0,166.40 218.0,166.40 219.0,166.40 220.0,166.40 221.0,166.40 222.0,166.40 223.0,166.40 224.0,166.40 225.0,166.40 226.0,166.40 227.0,166.40 228.0,166.40 229.0,166.40 230.0,166.40 231.0,166.40 232.0,166.40 233.0,166.40 234.0,166.40 235.0,166.40 236.0,166.40 237.0,166.40 238.0,166.40 239.0,166.40 240.0,166.40 241.0,166.40 242.0,166.40 243.0,166.40 244.0,166.40 245.2,166.40" fill="none" stroke="#000" stroke-width="1.42" stroke-linejoin="round"/>
<polygon points="69.0,186.20 69.0,186.20 70.0,186.20 71.0,186.20 72.0,186.20 73.0,186.20 74.0,186.20 75.0,186.20 76.0,186.20 77.0,186.20 78.0,186.20 79.0,186.20 80.0,186.20 81.0,186.20 82.0,186.20 83.0,186.20 84.0,186.20 85.0,186.20 86.0,186.20 87.0,186.20 88.0,186.20 89.0,186.20 90.0,186.20 91.0,186.20 92.0,186.19 93.0,186.19 94.0,186.19 95.0,186.18 96.0,186.17 97.0,186.17 98.0,186.16 99.0,186.15 100.0,186.14 101.0,186.12 102.0,186.11 103.0,186.10 104.0,186.08 105.0,186.07 106.0,186.05 107.0,186.02 108.0,185.99 109.0,185.93 110.0,185.86 111.0,185.77 112.0,185.66 113.0,185.53 114.0,185.38 115.0,185.21 116.0,185.00 117.0,184.74 118.0,184.41 119.0,184.02 120.0,183.58 121.0,183.08 122.0,182.49 123.0,181.79 124.0,180.93 125.0,179.90 126.0,178.66 127.0,177.21 128.0,175.51 129.0,173.50 130.0,171.15 131.0,168.52 132.0,165.81 133.0,163.14 134.0,160.50 135.0,157.83 136.0,155.12 137.0,152.41 138.0,149.86 139.0,147.62 140.0,145.81 141.0,144.49 142.0,143.60 143.0,143.05 144.0,142.80 145.0,142.89 146.0,143.42 147.0,144.53 148.0,146.27 149.0,148.64 150.0,151.54 151.0,154.77 152.0,158.10 153.0,161.40 154.0,164.67 155.0,167.92 156.0,171.09 157.0,174.04 158.0,176.66 159.0,178.91 160.0,180.74 161.0,182.20 162.0,183.34 163.0,184.21 164.0,184.84 165.0,185.29 166.0,185.61 167.0,185.83 168.0,185.98 169.0,186.06 170.0,186.12 171.0,186.15 172.0,186.18 173.0,186.19 174.0,186.20 175.0,186.20 176.0,186.20 177.0,186.20 178.0,186.20 179.0,186.20 180.0,186.20 181.0,186.20 182.0,186.20 183.0,186.20 184.0,186.20 185.0,186.20 186.0,186.20 187.0,186.20 188.0,186.20 189.0,186.20 190.0,186.20 191.0,186.20 192.0,186.20 193.0,186.20 194.0,186.20 195.0,186.20 196.0,186.20 197.0,186.20 198.0,186.20 199.0,186.20 200.0,186.20 201.0,186.20 202.0,186.20 203.0,186.20 204.0,186.20 205.0,186.20 206.0,186.20 207.0,186.20 208.0,186.20 209.0,186.20 210.0,186.20 211.0,186.20 212.0,186.20 213.0,186.20 214.0,186.20 215.0,186.20 216.0,186.20 217.0,186.20 218.0,186.20 219.0,186.20 220.0,186.20 221.0,186.20 222.0,186.20 223.0,186.20 224.0,186.20 225.0,186.20 226.0,186.20 227.0,186.20 228.0,186.20 229.0,186.20 230.0,186.20 231.0,186.20 232.0,186.20 233.0,186.20 234.0,186.20 235.0,186.20 236.0,186.20 237.0,186.20 238.0,186.20 239.0,186.20 240.0,186.20 241.0,186.20 242.0,186.20 243.0,186.20 244.0,186.20 245.2,186.20 245.2,186.20" fill="#b3b3b3" fill-opacity="0.5"/>
<polyline points="69.0,186.20 70.0,186.20 71.0,186.20 72.0,186.20 73.0,186.20 74.0,186.20 75.0,186.20 76.0,186.20 77.0,186.20 78.0,186.20 79.0,186.20 80.0,186.20 81.0,186.20 82.0,186.20 83.0,186.20 84.0,186.20 85.0,186.20 86.0,186.20 87.0,186.20 88.0,186.20 89.0,186.20 90.0,186.20 91.0,186.20 92.0,186.19 93.0,186.19 94.0,186.19 95.0,186.18 96.0,186.17 97.0,186.17 98.0,186.16 99.0,186.15 100.0,186.14 101.0,186.12 102.0,186.11 103.0,186.10 104.0,186.08 105.0,186.07 106.0,186.05 107.0,186.02 108.0,185.99 109.0,185.93 110.0,185.86 111.0,185.77 112.0,185.66 113.0,185.53 114.0,185.38 115.0,185.21 116.0,185.00 117.0,184.74 118.0,184.41 119.0,184.02 120.0,183.58 121.0,183.08 122.0,182.49 123.0,181.79 124.0,180.93 125.0,179.90 126.0,178.66 127.0,177.21 128.0,175.51 129.0,173.50 130.0,171.15 131.0,168.52 132.0,165.81 133.0,163.14 134.0,160.50 135.0,157.83 136.0,155.12 137.0,152.41 138.0,149.86 139.0,147.62 140.0,145.81 141.0,144.49 142.0,143.60 143.0,143.05 144.0,142.80 145.0,142.89 146.0,143.42 147.0,144.53 148.0,146.27 149.0,148.64 150.0,151.54 151.0,154.77 152.0,158.10 153.0,161.40 154.0,164.67 155.0,167.92 156.0,171.09 157.0,174.04 158.0,176.66 159.0,178.91 160.0,180.74 161.0,182.20 162.0,183.34 163.0,184.21 164.0,184.84 165.0,185.29 166.0,185.61 167.0,185.83 168.0,185.98 169.0,186.06 170.0,186.12 171.0,186.15 172.0,186.18 173.0,186.19 174.0,186.20 175.0,186.20 176.0,186.20 177.0,186.20 178.0,186.20 179.0,186.20 180.0,186.20 181.0,186.20 182.0,186.20 183.0,186.20 184.0,186.20 185.0,186.20 186.0,186.20 187.0,186.20 188.0,186.20 189.0,186.20 190.0,186.20 191.0,186.20 192.0,186.20 193.0,186.20 194.0,186.20 195.0,186.20 196.0,186.20 197.0,186.20 198.0,186.20 199.0,186.20 200.0,186.20 201.0,186.20 202.0,186.20 203.0,186.20 204.0,186.20 205.0,186.20 206.0,186.20 207.0,186.20 208.0,186.20 209.0,186.20 210.0,186.20 211.0,186.20 212.0,186.20 213.0,186.20 214.0,186.20 215.0,186.20 216.0,186.20 217.0,186.20 218.0,186.20 219.0,186.20 220.0,186.20 221.0,186.20 222.0,186.20 223.0,186.20 224.0,186.20 225.0,186.20 226.0,186.20 227.0,186.20 228.0,186.20 229.0,186.20 230.0,186.20 231.0,186.20 232.0,186.20 233.0,186.20 234.0,186.20 235.0,186.20 236.0,186.20 237.0,186.20 238.0,186.20 239.0,186.20 240.0,186.20 241.0,186.20 242.0,186.20 243.0,186.20 244.0,186.20 245.2,186.20" fill="none" stroke="#000" stroke-width="1.42" stroke-linejoin="round"/>
<polygon points="69.0,206.00 69.0,206.00 70.0,206.00 71.0,206.00 72.0,206.00 73.0,206.00 74.0,206.00 75.0,206.00 76.0,206.00 77.0,206.00 78.0,206.00 79.0,206.00 80.0,206.00 81.0,206.00 82.0,206.00 83.0,206.00 84.0,206.00 85.0,206.00 86.0,206.00 87.0,206.00 88.0,206.00 89.0,206.00 90.0,206.00 91.0,206.00 92.0,206.00 93.0,206.00 94.0,206.00 95.0,205.99 96.0,205.99 97.0,205.98 98.0,205.98 99.0,205.97 100.0,205.96 101.0,205.95 102.0,205.94 103.0,205.93 104.0,205.92 105.0,205.90 106.0,205.89 107.0,205.87 108.0,205.85 109.0,205.83 110.0,205.80 111.0,205.76 112.0,205.69 113.0,205.61 114.0,205.50 115.0,205.38 116.0,205.24 117.0,205.08 118.0,204.88 119.0,204.63 120.0,204.32 121.0,203.95 122.0,203.52 123.0,203.03 124.0,202.47 125.0,201.80 126.0,200.98 127.0,199.99 128.0,198.80 129.0,197.39 130.0,195.74 131.0,193.79 132.0,191.49 133.0,188.87 134.0,186.10 135.0,183.34 136.0,180.63 137.0,177.91 138.0,175.14 139.0,172.36 140.0,169.69 141.0,167.30 142.0,165.33 143.0,163.86 144.0,162.85 145.0,162.22 146.0,161.90 147.0,161.92 148.0,162.37 149.0,163.38 150.0,165.05 151.0,167.38 152.0,170.27 153.0,173.54 154.0,176.95 155.0,180.34 156.0,183.69 157.0,187.03 158.0,190.29 159.0,193.34 160.0,196.06 161.0,198.40 162.0,200.32 163.0,201.84 164.0,203.03 165.0,203.93 166.0,204.59 167.0,205.06 168.0,205.39 169.0,205.62 170.0,205.77 171.0,205.86 172.0,205.91 173.0,205.95 174.0,205.98 175.0,205.99 176.0,206.00 177.0,206.00 178.0,206.00 179.0,206.00 180.0,206.00 181.0,206.00 182.0,206.00 183.0,206.00 184.0,206.00 185.0,206.00 186.0,206.00 187.0,206.00 188.0,206.00 189.0,206.00 190.0,206.00 191.0,206.00 192.0,206.00 193.0,206.00 194.0,206.00 195.0,206.00 196.0,206.00 197.0,206.00 198.0,206.00 199.0,206.00 200.0,206.00 201.0,206.00 202.0,206.00 203.0,206.00 204.0,206.00 205.0,206.00 206.0,206.00 207.0,206.00 208.0,206.00 209.0,206.00 210.0,206.00 211.0,206.00 212.0,206.00 213.0,206.00 214.0,206.00 215.0,206.00 216.0,206.00 217.0,206.00 218.0,206.00 219.0,206.00 220.0,206.00 221.0,206.00 222.0,206.00 223.0,206.00 224.0,206.00 225.0,206.00 226.0,206.00 227.0,206.00 228.0,206.00 229.0,206.00 230.0,206.00 231.0,206.00 232.0,206.00 233.0,206.00 234.0,206.00 235.0,206.00 236.0,206.00 237.0,206.00 238.0,206.00 239.0,206.00 240.0,206.00 241.0,206.00 242.0,206.00 243.0,206.00 244.0,206.00 245.2,206.00 245.2,206.00" fill="#b3b3b3" fill-opacity="0.5"/>
<polyline points="69.0,206.00 70.0,206.00 71.0,206.00 72.0,206.00 73.0,206.00 74.0,206.00 75.0,206.00 76.0,206.00 77.0,206.00 78.0,206.00 79.0,206.00 80.0,206.00 81.0,206.00 82.0,206.00 83.0,206.00 84.0,206.00 85.0,206.00 86.0,206.00 87.0,206.00 88.0,206.00 89.0,206.00 90.0,206.00 91.0,206.00 92.0,206.00 93.0,206.00 94.0,206.00 95.0,205.99 96.0,205.99 97.0,205.98 98.0,205.98 99.0,205.97 100.0,205.96 101.0,205.95 102.0,205.94 103.0,205.93 104.0,205.92 105.0,205.90 106.0,205.89 107.0,205.87 108.0,205.85 109.0,205.83 110.0,205.80 111.0,205.76 112.0,205.69 113.0,205.61 114.0,205.50 115.0,205.38 116.0,205.24 117.0,205.08 118.0,204.88 119.0,204.63 120.0,204.32 121.0,203.95 122.0,203.52 123.0,203.03 124.0,202.47 125.0,201.80 126.0,200.98 127.0,199.99 128.0,198.80 129.0,197.39 130.0,195.74 131.0,193.79 132.0,191.49 133.0,188.87 134.0,186.10 135.0,183.34 136.0,180.63 137.0,177.91 138.0,175.14 139.0,172.36 140.0,169.69 141.0,167.30 142.0,165.33 143.0,163.86 144.0,162.85 145.0,162.22 146.0,161.90 147.0,161.92 148.0,162.37 149.0,163.38 150.0,165.05 151.0,167.38 152.0,170.27 153.0,173.54 154.0,176.95 155.0,180.34 156.0,183.69 157.0,187.03 158.0,190.29 159.0,193.34 160.0,196.06 161.0,198.40 162.0,200.32 163.0,201.84 164.0,203.03 165.0,203.93 166.0,204.59 167.0,205.06 168.0,205.39 169.0,205.62 170.0,205.77 171.0,205.86 172.0,205.91 173.0,205.95 174.0,205.98 175.0,205.99 176.0,206.00 177.0,206.00 178.0,206.00 179.0,206.00 180.0,206.00 181.0,206.00 182.0,206.00 183.0,206.00 184.0,206.00 185.0,206.00 186.0,206.00 187.0,206.00 188.0,206.00 189.0,206.00 190.0,206.00 191.0,206.00 192.0,206.00 193.0,206.00 194.0,206.00 195.0,206.00 196.0,206.00 197.0,206.00 198.0,206.00 199.0,206.00 200.0,206.00 201.0,206.00 202.0,206.00 203.0,206.00 204.0,206.00 205.0,206.00 206.0,206.00 207.0,206.00 208.0,206.00 209.0,206.00 210.0,206.00 211.0,206.00 212.0,206.00 213.0,206.00 214.0,206.00 215.0,206.00 216.0,206.00 217.0,206.00 218.0,206.00 219.0,206.00 220.0,206.00 221.0,206.00 222.0,206.00 223.0,206.00 224.0,206.00 225.0,206.00 226.0,206.00 227.0,206.00 228.0,206.00 229.0,206.00 230.0,206.00 231.0,206.00 232.0,206.00 233.0,206.00 234.0,206.00 235.0,206.00 236.0,206.00 237.0,206.00 238.0,206.00 239.0,206.00 240.0,206.00 241.0,206.00 242.0,206.00 243.0,206.00 244.0,206.00 245.2,206.00" fill="none" stroke="#000" stroke-width="1.42" stroke-linejoin="round"/>
<polygon points="69.0,225.80 69.0,225.80 70.0,225.80 71.0,225.80 72.0,225.80 73.0,225.80 74.0,225.80 75.0,225.80 76.0,225.80 77.0,225.80 78.0,225.80 79.0,225.80 80.0,225.80 81.0,225.80 82.0,225.80 83.0,225.80 84.0,225.80 85.0,225.80 86.0,225.80 87.0,225.80 88.0,225.80 89.0,225.80 90.0,225.80 91.0,225.80 92.0,225.80 93.0,225.79 94.0,225.79 95.0,225.79 96.0,225.78 97.0,225.78 98.0,225.77 99.0,225.76 100.0,225.75 101.0,225.75 102.0,225.74 103.0,225.72 104.0,225.71 105.0,225.70 106.0,225.69 107.0,225.67 108.0,225.66 109.0,225.64 110.0,225.61 111.0,225.56 112.0,225.51 113.0,225.43 114.0,225.34 115.0,225.23 116.0,225.11 117.0,224.97 118.0,224.81 119.0,224.62 120.0,224.37 121.0,224.07 122.0,223.73 123.0,223.33 124.0,222.90 125.0,222.39 126.0,221.79 127.0,221.08 128.0,220.22 129.0,219.20 130.0,218.00 131.0,216.62 132.0,215.02 133.0,213.14 134.0,210.95 135.0,208.57 136.0,206.14 137.0,203.76 138.0,201.41 139.0,199.04 140.0,196.62 141.0,194.19 142.0,191.85 143.0,189.72 144.0,187.91 145.0,186.51 146.0,185.52 147.0,184.92 148.0,184.64 149.0,184.60 150.0,184.79 151.0,185.33 152.0,186.36 153.0,187.98 154.0,190.17 155.0,192.88 156.0,195.98 157.0,199.32 158.0,202.69 159.0,205.79 160.0,208.39 161.0,210.49 162.0,212.28 163.0,214.01 164.0,215.82 165.0,217.70 166.0,219.50 167.0,221.09 168.0,222.40 169.0,223.45 170.0,224.25 171.0,224.83 172.0,225.21 173.0,225.45 174.0,225.61 175.0,225.71 176.0,225.77 177.0,225.79 178.0,225.80 179.0,225.80 180.0,225.80 181.0,225.80 182.0,225.80 183.0,225.80 184.0,225.80 185.0,225.80 186.0,225.80 187.0,225.80 188.0,225.80 189.0,225.80 190.0,225.80 191.0,225.80 192.0,225.80 193.0,225.80 194.0,225.80 195.0,225.80 196.0,225.80 197.0,225.80 198.0,225.80 199.0,225.80 200.0,225.80 201.0,225.80 202.0,225.80 203.0,225.80 204.0,225.80 205.0,225.80 206.0,225.80 207.0,225.80 208.0,225.80 209.0,225.80 210.0,225.80 211.0,225.80 212.0,225.80 213.0,225.80 214.0,225.80 215.0,225.80 216.0,225.80 217.0,225.80 218.0,225.80 219.0,225.80 220.0,225.80 221.0,225.80 222.0,225.80 223.0,225.80 224.0,225.80 225.0,225.80 226.0,225.80 227.0,225.80 228.0,225.80 229.0,225.80 230.0,225.80 231.0,225.80 232.0,225.80 233.0,225.80 234.0,225.80 235.0,225.80 236.0,225.80 237.0,225.80 238.0,225.80 239.0,225.80 240.0,225.80 241.0,225.80 242.0,225.80 243.0,225.80 244.0,225.80 245.2,225.80 245.2,225.80" fill="#b3b3b3" fill-opacity="0.5"/>
<polyline points="69.0,225.80 70.0,225.80 71.0,225.80 72.0,225.80 73.0,225.80 74.0,225.80 75.0,225.80 76.0,225.80 77.0,225.80 78.0,225.80 79.0,225.80 80.0,225.80 81.0,225.80 82.0,225.80 83.0,225.80 84.0,225.80 85.0,225.80 86.0,225.80 87.0,225.80 88.0,225.80 89.0,225.80 90.0,225.80 91.0,225.80 92.0,225.80 93.0,225.79 94.0,225.79 95.0,225.79 96.0,225.78 97.0,225.78 98.0,225.77 99.0,225.76 100.0,225.75 101.0,225.75 102.0,225.74 103.0,225.72 104.0,225.71 105.0,225.70 106.0,225.69 107.0,225.67 108.0,225.66 109.0,225.64 110.0,225.61 111.0,225.56 112.0,225.51 113.0,225.43 114.0,225.34 115.0,225.23 116.0,225.11 117.0,224.97 118.0,224.81 119.0,224.62 120.0,224.37 121.0,224.07 122.0,223.73 123.0,223.33 124.0,222.90 125.0,222.39 126.0,221.79 127.0,221.08 128.0,220.22 129.0,219.20 130.0,218.00 131.0,216.62 132.0,215.02 133.0,213.14 134.0,210.95 135.0,208.57 136.0,206.14 137.0,203.76 138.0,201.41 139.0,199.04 140.0,196.62 141.0,194.19 142.0,191.85 143.0,189.72 144.0,187.91 145.0,186.51 146.0,185.52 147.0,184.92 148.0,184.64 149.0,184.60 150.0,184.79 151.0,185.33 152.0,186.36 153.0,187.98 154.0,190.17 155.0,192.88 156.0,195.98 157.0,199.32 158.0,202.69 159.0,205.79 160.0,208.39 161.0,210.49 162.0,212.28 163.0,214.01 164.0,215.82 165.0,217.70 166.0,219.50 167.0,221.09 168.0,222.40 169.0,223.45 170.0,224.25 171.0,224.83 172.0,225.21 173.0,225.45 174.0,225.61 175.0,225.71 176.0,225.77 177.0,225.79 178.0,225.80 179.0,225.80 180.0,225.80 181.0,225.80 182.0,225.80 183.0,225.80 184.0,225.80 185.0,225.80 186.0,225.80 187.0,225.80 188.0,225.80 189.0,225.80 190.0,225.80 191.0,225.80 192.0,225.80 193.0,225.80 194.0,225.80 195.0,225.80 196.0,225.80 197.0,225.80 198.0,225.80 199.0,225.80 200.0,225.80 201.0,225.80 202.0,225.80 203.0,225.80 204.0,225.80 205.0,225.80 206.0,225.80 207.0,225.80 208.0,225.80 209.0,225.80 210.0,225.80 211.0,225.80 212.0,225.80 213.0,225.80 214.0,225.80 215.0,225.80 216.0,225.80 217.0,225.80 218.0,225.80 219.0,225.80 220.0,225.80 221.0,225.80 222.0,225.80 223.0,225.80 224.0,225.80 225.0,225.80 226.0,225.80 227.0,225.80 228.0,225.80 229.0,225.80 230.0,225.80 231.0,225.80 232.0,225.80 233.0,225.80 234.0,225.80 235.0,225.80 236.0,225.80 237.0,225.80 238.0,225.80 239.0,225.80 240.0,225.80 241.0,225.80 242.0,225.80 243.0,225.80 244.0,225.80 245.2,225.80" fill="none" stroke="#000" stroke-width="1.42" stroke-linejoin="round"/>
<polygon points="69.0,245.60 69.0,245.60 70.0,245.60 71.0,245.60 72.0,245.60 73.0,245.60 74.0,245.60 75.0,245.60 76.0,245.60 77.0,245.60 78.0,245.60 79.0,245.60 80.0,245.60 81.0,245.60 82.0,245.60 83.0,245.60 84.0,245.60 85.0,245.60 86.0,245.60 87.0,245.60 88.0,245.60 89.0,245.60 90.0,245.60 91.0,245.60 92.0,245.60 93.0,245.60 94.0,245.60 95.0,245.60 96.0,245.60 97.0,245.60 98.0,245.59 99.0,245.59 100.0,245.59 101.0,245.58 102.0,245.58 103.0,245.57 104.0,245.56 105.0,245.56 106.0,245.55 107.0,245.54 108.0,245.53 109.0,245.52 110.0,245.51 111.0,245.50 112.0,245.48 113.0,245.47 114.0,245.45 115.0,245.43 116.0,245.40 117.0,245.36 118.0,245.30 119.0,245.23 120.0,245.15 121.0,245.05 122.0,244.94 123.0,244.82 124.0,244.68 125.0,244.50 126.0,244.29 127.0,244.03 128.0,243.73 129.0,243.39 130.0,243.01 131.0,242.59 132.0,242.10 133.0,241.52 134.0,240.83 135.0,240.01 136.0,239.05 137.0,237.94 138.0,236.67 139.0,235.22 140.0,233.51 141.0,231.54 142.0,229.39 143.0,227.21 144.0,225.08 145.0,222.98 146.0,220.88 147.0,218.73 148.0,216.54 149.0,214.39 150.0,212.38 151.0,210.59 152.0,209.12 153.0,208.00 154.0,207.24 155.0,206.78 156.0,206.60 157.0,206.64 158.0,206.96 159.0,207.72 160.0,209.09 161.0,211.09 162.0,213.52 163.0,216.06 164.0,218.44 165.0,220.57 166.0,222.57 167.0,224.54 168.0,226.49 169.0,228.37 170.0,230.19 171.0,232.02 172.0,233.90 173.0,235.79 174.0,237.59 175.0,239.21 176.0,240.56 177.0,241.64 178.0,242.47 179.0,243.11 180.0,243.61 181.0,244.00 182.0,244.30 183.0,244.54 184.0,244.75 185.0,244.91 186.0,245.05 187.0,245.17 188.0,245.28 189.0,245.37 190.0,245.45 191.0,245.51 192.0,245.56 193.0,245.58 194.0,245.60 195.0,245.60 196.0,245.60 197.0,245.60 198.0,245.60 199.0,245.60 200.0,245.60 201.0,245.60 202.0,245.60 203.0,245.60 204.0,245.60 205.0,245.60 206.0,245.60 207.0,245.60 208.0,245.60 209.0,245.60 210.0,245.60 211.0,245.60 212.0,245.60 213.0,245.60 214.0,245.60 215.0,245.60 216.0,245.60 217.0,245.60 218.0,245.60 219.0,245.60 220.0,245.60 221.0,245.60 222.0,245.60 223.0,245.60 224.0,245.60 225.0,245.60 226.0,245.60 227.0,245.60 228.0,245.60 229.0,245.60 230.0,245.60 231.0,245.60 232.0,245.60 233.0,245.60 234.0,245.60 235.0,245.60 236.0,245.60 237.0,245.60 238.0,245.60 239.0,245.60 240.0,245.60 241.0,245.60 242.0,245.60 243.0,245.60 244.0,245.60 245.2,245.60 245.2,245.60" fill="#b3b3b3" fill-opacity="0.5"/>
<polyline points="69.0,245.60 70.0,245.60 71.0,245.60 72.0,245.60 73.0,245.60 74.0,245.60 75.0,245.60 76.0,245.60 77.0,245.60 78.0,245.60 79.0,245.60 80.0,245.60 81.0,245.60 82.0,245.60 83.0,245.60 84.0,245.60 85.0,245.60 86.0,245.60 87.0,245.60 88.0,245.60 89.0,245.60 90.0,245.60 91.0,245.60 92.0,245.60 93.0,245.60 94.0,245.60 95.0,245.60 96.0,245.60 97.0,245.60 98.0,245.59 99.0,245.59 100.0,245.59 101.0,245.58 102.0,245.58 103.0,245.57 104.0,245.56 105.0,245.56 106.0,245.55 107.0,245.54 108.0,245.53 109.0,245.52 110.0,245.51 111.0,245.50 112.0,245.48 113.0,245.47 114.0,245.45 115.0,245.43 116.0,245.40 117.0,245.36 118.0,245.30 119.0,245.23 120.0,245.15 121.0,245.05 122.0,244.94 123.0,244.82 124.0,244.68 125.0,244.50 126.0,244.29 127.0,244.03 128.0,243.73 129.0,243.39 130.0,243.01 131.0,242.59 132.0,242.10 133.0,241.52 134.0,240.83 135.0,240.01 136.0,239.05 137.0,237.94 138.0,236.67 139.0,235.22 140.0,233.51 141.0,231.54 142.0,229.39 143.0,227.21 144.0,225.08 145.0,222.98 146.0,220.88 147.0,218.73 148.0,216.54 149.0,214.39 150.0,212.38 151.0,210.59 152.0,209.12 153.0,208.00 154.0,207.24 155.0,206.78 156.0,206.60 157.0,206.64 158.0,206.96 159.0,207.72 160.0,209.09 161.0,211.09 162.0,213.52 163.0,216.06 164.0,218.44 165.0,220.57 166.0,222.57 167.0,224.54 168.0,226.49 169.0,228.37 170.0,230.19 171.0,232.02 172.0,233.90 173.0,235.79 174.0,237.59 175.0,239.21 176.0,240.56 177.0,241.64 178.0,242.47 179.0,243.11 180.0,243.61 181.0,244.00 182.0,244.30 183.0,244.54 184.0,244.75 185.0,244.91 186.0,245.05 187.0,245.17 188.0,245.28 189.0,245.37 190.0,245.45 191.0,245.51 192.0,245.56 193.0,245.58 194.0,245.60 195.0,245.60 196.0,245.60 197.0,245.60 198.0,245.60 199.0,245.60 200.0,245.60 201.0,245.60 202.0,245.60 203.0,245.60 204.0,245.60 205.0,245.60 206.0,245.60 207.0,245.60 208.0,245.60 209.0,245.60 210.0,245.60 211.0,245.60 212.0,245.60 213.0,245.60 214.0,245.60 215.0,245.60 216.0,245.60 217.0,245.60 218.0,245.60 219.0,245.60 220.0,245.60 221.0,245.60 222.0,245.60 223.0,245.60 224.0,245.60 225.0,245.60 226.0,245.60 227.0,245.60 228.0,245.60 229.0,245.60 230.0,245.60 231.0,245.60 232.0,245.60 233.0,245.60 234.0,245.60 235.0,245.60 236.0,245.60 237.0,245.60 238.0,245.60 239.0,245.60 240.0,245.60 241.0,245.60 242.0,245.60 243.0,245.60 244.0,245.60 245.2,245.60" fill="none" stroke="#000" stroke-width="1.42" stroke-linejoin="round"/>
<polygon points="69.0,255.50 69.0,255.50 70.0,255.50 71.0,255.50 72.0,255.50 73.0,255.50 74.0,255.50 75.0,255.50 76.0,255.50 77.0,255.50 78.0,255.50 79.0,255.50 80.0,255.50 81.0,255.50 82.0,255.50 83.0,255.50 84.0,255.50 85.0,255.50 86.0,255.50 87.0,255.50 88.0,255.50 89.0,255.50 90.0,255.50 91.0,255.50 92.0,255.50 93.0,255.50 94.0,255.50 95.0,255.50 96.0,255.50 97.0,255.50 98.0,255.50 99.0,255.50 100.0,255.50 101.0,255.49 102.0,255.49 103.0,255.49 104.0,255.49 105.0,255.48 106.0,255.48 107.0,255.47 108.0,255.46 109.0,255.46 110.0,255.45 111.0,255.44 112.0,255.43 113.0,255.42 114.0,255.41 115.0,255.40 116.0,255.39 117.0,255.38 118.0,255.37 119.0,255.35 120.0,255.32 121.0,255.29 122.0,255.24 123.0,255.18 124.0,255.11 125.0,255.03 126.0,254.93 127.0,254.83 128.0,254.72 129.0,254.59 130.0,254.42 131.0,254.22 132.0,253.98 133.0,253.70 134.0,253.40 135.0,253.07 136.0,252.69 137.0,252.26 138.0,251.75 139.0,251.15 140.0,250.44 141.0,249.61 142.0,248.66 143.0,247.58 144.0,246.35 145.0,244.93 146.0,243.27 147.0,241.44 148.0,239.55 149.0,237.68 150.0,235.86 151.0,234.05 152.0,232.22 153.0,230.34 154.0,228.44 155.0,226.60 156.0,224.90 157.0,223.40 158.0,222.18 159.0,221.25 160.0,220.61 161.0,220.24 162.0,220.10 163.0,220.20 164.0,220.59 165.0,221.35 166.0,222.50 167.0,224.02 168.0,225.80 169.0,227.72 170.0,229.67 171.0,231.62 172.0,233.52 173.0,235.37 174.0,237.16 175.0,238.91 176.0,240.65 177.0,242.40 178.0,244.12 179.0,245.72 180.0,247.15 181.0,248.40 182.0,249.50 183.0,250.44 184.0,251.25 185.0,251.95 186.0,252.58 187.0,253.14 188.0,253.63 189.0,254.03 190.0,254.36 191.0,254.63 192.0,254.86 193.0,255.06 194.0,255.23 195.0,255.36 196.0,255.44 197.0,255.48 198.0,255.50 199.0,255.50 200.0,255.50 201.0,255.50 202.0,255.50 203.0,255.50 204.0,255.50 205.0,255.50 206.0,255.50 207.0,255.50 208.0,255.50 209.0,255.50 210.0,255.50 211.0,255.50 212.0,255.50 213.0,255.50 214.0,255.50 215.0,255.50 216.0,255.50 217.0,255.50 218.0,255.50 219.0,255.50 220.0,255.50 221.0,255.50 222.0,255.50 223.0,255.50 224.0,255.50 225.0,255.50 226.0,255.50 227.0,255.50 228.0,255.50 229.0,255.50 230.0,255.50 231.0,255.50 232.0,255.50 233.0,255.50 234.0,255.50 235.0,255.50 236.0,255.50 237.0,255.50 238.0,255.50 239.0,255.50 240.0,255.50 241.0,255.50 242.0,255.50 243.0,255.50 244.0,255.50 245.2,255.50 245.2,255.50" fill="#b3b3b3" fill-opacity="0.5"/>
<polyline points="69.0,255.50 70.0,255.50 71.0,255.50 72.0,255.50 73.0,255.50 74.0,255.50 75.0,255.50 76.0,255.50 77.0,255.50 78.0,255.50 79.0,255.50 80.0,255.50 81.0,255.50 82.0,255.50 83.0,255.50 84.0,255.50 85.0,255.50 86.0,255.50 87.0,255.50 88.0,255.50 89.0,255.50 90.0,255.50 91.0,255.50 92.0,255.50 93.0,255.50 94.0,255.50 95.0,255.50 96.0,255.50 97.0,255.50 98.0,255.50 99.0,255.50 100.0,255.50 101.0,255.49 102.0,255.49 103.0,255.49 104.0,255.49 105.0,255.48 106.0,255.48 107.0,255.47 108.0,255.46 109.0,255.46 110.0,255.45 111.0,255.44 112.0,255.43 113.0,255.42 114.0,255.41 115.0,255.40 116.0,255.39 117.0,255.38 118.0,255.37 119.0,255.35 120.0,255.32 121.0,255.29 122.0,255.24 123.0,255.18 124.0,255.11 125.0,255.03 126.0,254.93 127.0,254.83 128.0,254.72 129.0,254.59 130.0,254.42 131.0,254.22 132.0,253.98 133.0,253.70 134.0,253.40 135.0,253.07 136.0,252.69 137.0,252.26 138.0,251.75 139.0,251.15 140.0,250.44 141.0,249.61 142.0,248.66 143.0,247.58 144.0,246.35 145.0,244.93 146.0,243.27 147.0,241.44 148.0,239.55 149.0,237.68 150.0,235.86 151.0,234.05 152.0,232.22 153.0,230.34 154.0,228.44 155.0,226.60 156.0,224.90 157.0,223.40 158.0,222.18 159.0,221.25 160.0,220.61 161.0,220.24 162.0,220.10 163.0,220.20 164.0,220.59 165.0,221.35 166.0,222.50 167.0,224.02 168.0,225.80 169.0,227.72 170.0,229.67 171.0,231.62 172.0,233.52 173.0,235.37 174.0,237.16 175.0,238.91 176.0,240.65 177.0,242.40 178.0,244.12 179.0,245.72 180.0,247.15 181.0,248.40 182.0,249.50 183.0,250.44 184.0,251.25 185.0,251.95 186.0,252.58 187.0,253.14 188.0,253.63 189.0,254.03 190.0,254.36 191.0,254.63 192.0,254.86 193.0,255.06 194.0,255.23 195.0,255.36 196.0,255.44 197.0,255.48 198.0,255.50 199.0,255.50 200.0,255.50 201.0,255.50 202.0,255.50 203.0,255.50 204.0,255.50 205.0,255.50 206.0,255.50 207.0,255.50 208.0,255.50 209.0,255.50 210.0,255.50 211.0,255.50 212.0,255.50 213.0,255.50 214.0,255.50 215.0,255.50 216.0,255.50 217.0,255.50 218.0,255.50 219.0,255.50 220.0,255.50 221.0,255.50 222.0,255.50 223.0,255.50 224.0,255.50 225.0,255.50 226.0,255.50 227.0,255.50 228.0,255.50 229.0,255.50 230.0,255.50 231.0,255.50 232.0,255.50 233.0,255.50 234.0,255.50 235.0,255.50 236.0,255.50 237.0,255.50 238.0,255.50 239.0,255.50 240.0,255.50 241.0,255.50 242.0,255.50 243.0,255.50 244.0,255.50 245.2,255.50" fill="none" stroke="#000" stroke-width="1.42" stroke-linejoin="round"/>
<polygon points="69.0,263.42 69.0,263.42 70.0,263.42 71.0,263.42 72.0,263.42 73.0,263.42 74.0,263.42 75.0,263.42 76.0,263.42 77.0,263.42 78.0,263.42 79.0,263.42 80.0,263.42 81.0,263.42 82.0,263.42 83.0,263.42 84.0,263.42 85.0,263.42 86.0,263.42 87.0,263.42 88.0,263.42 89.0,263.42 90.0,263.42 91.0,263.42 92.0,263.42 93.0,263.42 94.0,263.42 95.0,263.42 96.0,263.42 97.0,263.42 98.0,263.42 99.0,263.42 100.0,263.42 101.0,263.42 102.0,263.42 103.0,263.41 104.0,263.41 105.0,263.40 106.0,263.39 107.0,263.39 108.0,263.38 109.0,263.37 110.0,263.35 111.0,263.34 112.0,263.33 113.0,263.31 114.0,263.30 115.0,263.28 116.0,263.26 117.0,263.24 118.0,263.22 119.0,263.20 120.0,263.18 121.0,263.16 122.0,263.14 123.0,263.12 124.0,263.09 125.0,263.06 126.0,263.03 127.0,262.99 128.0,262.94 129.0,262.90 130.0,262.84 131.0,262.78 132.0,262.72 133.0,262.66 134.0,262.59 135.0,262.52 136.0,262.44 137.0,262.35 138.0,262.25 139.0,262.14 140.0,262.02 141.0,261.88 142.0,261.74 143.0,261.59 144.0,261.42 145.0,261.25 146.0,261.05 147.0,260.83 148.0,260.58 149.0,260.30 150.0,259.98 151.0,259.64 152.0,259.26 153.0,258.85 154.0,258.37 155.0,257.83 156.0,257.27 157.0,256.71 158.0,256.15 159.0,255.59 160.0,255.02 161.0,254.42 162.0,253.80 163.0,253.15 164.0,252.45 165.0,251.68 166.0,250.87 167.0,250.04 168.0,249.20 169.0,248.33 170.0,247.55 171.0,247.04 172.0,246.75 173.0,246.42 174.0,245.68 175.0,244.42 176.0,243.19 177.0,242.23 178.0,241.45 179.0,240.80 180.0,240.25 181.0,239.84 182.0,239.68 183.0,239.73 184.0,239.90 185.0,240.14 186.0,240.46 187.0,240.66 188.0,240.65 189.0,240.59 190.0,240.62 191.0,241.02 192.0,241.76 193.0,242.56 194.0,243.37 195.0,244.17 196.0,244.92 197.0,245.62 198.0,246.28 199.0,246.92 200.0,247.55 201.0,248.18 202.0,248.80 203.0,249.41 204.0,250.04 205.0,250.68 206.0,251.34 207.0,252.02 208.0,252.71 209.0,253.43 210.0,254.19 211.0,254.99 212.0,255.79 213.0,256.55 214.0,257.24 215.0,257.88 216.0,258.48 217.0,259.06 218.0,259.62 219.0,260.19 220.0,260.76 221.0,261.29 222.0,261.74 223.0,262.12 224.0,262.46 225.0,262.74 226.0,262.97 227.0,263.12 228.0,263.22 229.0,263.30 230.0,263.36 231.0,263.40 232.0,263.42 233.0,263.42 234.0,263.42 235.0,263.42 236.0,263.42 237.0,263.42 238.0,263.42 239.0,263.42 240.0,263.42 241.0,263.42 242.0,263.42 243.0,263.42 244.0,263.42 245.2,263.42 245.2,263.42" fill="#b3b3b3" fill-opacity="0.5"/>
<polyline points="69.0,263.42 70.0,263.42 71.0,263.42 72.0,263.42 73.0,263.42 74.0,263.42 75.0,263.42 76.0,263.42 77.0,263.42 78.0,263.42 79.0,263.42 80.0,263.42 81.0,263.42 82.0,263.42 83.0,263.42 84.0,263.42 85.0,263.42 86.0,263.42 87.0,263.42 88.0,263.42 89.0,263.42 90.0,263.42 91.0,263.42 92.0,263.42 93.0,263.42 94.0,263.42 95.0,263.42 96.0,263.42 97.0,263.42 98.0,263.42 99.0,263.42 100.0,263.42 101.0,263.42 102.0,263.42 103.0,263.41 104.0,263.41 105.0,263.40 106.0,263.39 107.0,263.39 108.0,263.38 109.0,263.37 110.0,263.35 111.0,263.34 112.0,263.33 113.0,263.31 114.0,263.30 115.0,263.28 116.0,263.26 117.0,263.24 118.0,263.22 119.0,263.20 120.0,263.18 121.0,263.16 122.0,263.14 123.0,263.12 124.0,263.09 125.0,263.06 126.0,263.03 127.0,262.99 128.0,262.94 129.0,262.90 130.0,262.84 131.0,262.78 132.0,262.72 133.0,262.66 134.0,262.59 135.0,262.52 136.0,262.44 137.0,262.35 138.0,262.25 139.0,262.14 140.0,262.02 141.0,261.88 142.0,261.74 143.0,261.59 144.0,261.42 145.0,261.25 146.0,261.05 147.0,260.83 148.0,260.58 149.0,260.30 150.0,259.98 151.0,259.64 152.0,259.26 153.0,258.85 154.0,258.37 155.0,257.83 156.0,257.27 157.0,256.71 158.0,256.15 159.0,255.59 160.0,255.02 161.0,254.42 162.0,253.80 163.0,253.15 164.0,252.45 165.0,251.68 166.0,250.87 167.0,250.04 168.0,249.20 169.0,248.33 170.0,247.55 171.0,247.04 172.0,246.75 173.0,246.42 174.0,245.68 175.0,244.42 176.0,243.19 177.0,242.23 178.0,241.45 179.0,240.80 180.0,240.25 181.0,239.84 182.0,239.68 183.0,239.73 184.0,239.90 185.0,240.14 186.0,240.46 187.0,240.66 188.0,240.65 189.0,240.59 190.0,240.62 191.0,241.02 192.0,241.76 193.0,242.56 194.0,243.37 195.0,244.17 196.0,244.92 197.0,245.62 198.0,246.28 199.0,246.92 200.0,247.55 201.0,248.18 202.0,248.80 203.0,249.41 204.0,250.04 205.0,250.68 206.0,251.34 207.0,252.02 208.0,252.71 209.0,253.43 210.0,254.19 211.0,254.99 212.0,255.79 213.0,256.55 214.0,257.24 215.0,257.88 216.0,258.48 217.0,259.06 218.0,259.62 219.0,260.19 220.0,260.76 221.0,261.29 222.0,261.74 223.0,262.12 224.0,262.46 225.0,262.74 226.0,262.97 227.0,263.12 228.0,263.22 229.0,263.30 230.0,263.36 231.0,263.40 232.0,263.42 233.0,263.42 234.0,263.42 235.0,263.42 236.0,263.42 237.0,263.42 238.0,263.42 239.0,263.42 240.0,263.42 241.0,263.42 242.0,263.42 243.0,263.42 244.0,263.42 245.2,263.42" fill="none" stroke="#000" stroke-width="1.42" stroke-linejoin="round"/>
<polygon points="69.0,265.40 69.0,265.40 70.0,265.40 71.0,265.40 72.0,265.40 73.0,265.40 74.0,265.40 75.0,265.40 76.0,265.40 77.0,265.40 78.0,265.40 79.0,265.40 80.0,265.40 81.0,265.40 82.0,265.40 83.0,265.40 84.0,265.40 85.0,265.40 86.0,265.40 87.0,265.40 88.0,265.40 89.0,265.40 90.0,265.40 91.0,265.40 92.0,265.40 93.0,265.40 94.0,265.40 95.0,265.40 96.0,265.40 97.0,265.40 98.0,265.40 99.0,265.40 100.0,265.40 101.0,265.40 102.0,265.40 103.0,265.40 104.0,265.40 105.0,265.40 106.0,265.40 107.0,265.40 108.0,265.40 109.0,265.40 110.0,265.40 111.0,265.40 112.0,265.40 113.0,265.40 114.0,265.40 115.0,265.40 116.0,265.40 117.0,265.40 118.0,265.40 119.0,265.40 120.0,265.40 121.0,265.40 122.0,265.39 123.0,265.39 124.0,265.38 125.0,265.37 126.0,265.36 127.0,265.34 128.0,265.32 129.0,265.31 130.0,265.28 131.0,265.26 132.0,265.24 133.0,265.21 134.0,265.19 135.0,265.16 136.0,265.13 137.0,265.10 138.0,265.07 139.0,265.03 140.0,265.00 141.0,264.95 142.0,264.90 143.0,264.83 144.0,264.75 145.0,264.66 146.0,264.57 147.0,264.48 148.0,264.38 149.0,264.29 150.0,264.19 151.0,264.11 152.0,264.03 153.0,263.95 154.0,263.88 155.0,263.81 156.0,263.74 157.0,263.66 158.0,263.59 159.0,263.51 160.0,263.42 161.0,263.33 162.0,263.23 163.0,263.12 164.0,263.01 165.0,262.88 166.0,262.75 167.0,262.61 168.0,262.46 169.0,262.29 170.0,262.11 171.0,261.92 172.0,261.71 173.0,261.49 174.0,261.23 175.0,260.92 176.0,260.57 177.0,260.16 178.0,259.72 179.0,259.24 180.0,258.74 181.0,258.19 182.0,257.58 183.0,256.91 184.0,256.17 185.0,255.37 186.0,254.47 187.0,253.49 188.0,252.45 189.0,251.39 190.0,250.28 191.0,249.13 192.0,247.95 193.0,246.78 194.0,245.64 195.0,244.51 196.0,243.40 197.0,242.33 198.0,241.31 199.0,240.31 200.0,239.34 201.0,238.45 202.0,237.69 203.0,237.04 204.0,236.53 205.0,236.29 206.0,236.35 207.0,236.61 208.0,237.00 209.0,237.61 210.0,238.43 211.0,239.32 212.0,240.19 213.0,241.05 214.0,241.94 215.0,242.90 216.0,243.96 217.0,245.13 218.0,246.44 219.0,247.92 220.0,249.62 221.0,251.42 222.0,253.09 223.0,254.61 224.0,256.05 225.0,257.47 226.0,258.86 227.0,260.19 228.0,261.37 229.0,262.42 230.0,263.35 231.0,264.08 232.0,264.61 233.0,265.02 234.0,265.28 235.0,265.38 236.0,265.40 237.0,265.40 238.0,265.40 239.0,265.40 240.0,265.40 241.0,265.40 242.0,265.40 243.0,265.40 244.0,265.40 245.2,265.40 245.2,265.40" fill="#b3b3b3" fill-opacity="0.5"/>
<polyline points="69.0,265.40 70.0,265.40 71.0,265.40 72.0,265.40 73.0,265.40 74.0,265.40 75.0,265.40 76.0,265.40 77.0,265.40 78.0,265.40 79.0,265.40 80.0,265.40 81.0,265.40 82.0,265.40 83.0,265.40 84.0,265.40 85.0,265.40 86.0,265.40 87.0,265.40 88.0,265.40 89.0,265.40 90.0,265.40 91.0,265.40 92.0,265.40 93.0,265.40 94.0,265.40 95.0,265.40 96.0,265.40 97.0,265.40 98.0,265.40 99.0,265.40 100.0,265.40 101.0,265.40 102.0,265.40 103.0,265.40 104.0,265.40 105.0,265.40 106.0,265.40 107.0,265.40 108.0,265.40 109.0,265.40 110.0,265.40 111.0,265.40 112.0,265.40 113.0,265.40 114.0,265.40 115.0,265.40 116.0,265.40 117.0,265.40 118.0,265.40 119.0,265.40 120.0,265.40 121.0,265.40 122.0,265.39 123.0,265.39 124.0,265.38 125.0,265.37 126.0,265.36 127.0,265.34 128.0,265.32 129.0,265.31 130.0,265.28 131.0,265.26 132.0,265.24 133.0,265.21 134.0,265.19 135.0,265.16 136.0,265.13 137.0,265.10 138.0,265.07 139.0,265.03 140.0,265.00 141.0,264.95 142.0,264.90 143.0,264.83 144.0,264.75 145.0,264.66 146.0,264.57 147.0,264.48 148.0,264.38 149.0,264.29 150.0,264.19 151.0,264.11 152.0,264.03 153.0,263.95 154.0,263.88 155.0,263.81 156.0,263.74 157.0,263.66 158.0,263.59 159.0,263.51 160.0,263.42 161.0,263.33 162.0,263.23 163.0,263.12 164.0,263.01 165.0,262.88 166.0,262.75 167.0,262.61 168.0,262.46 169.0,262.29 170.0,262.11 171.0,261.92 172.0,261.71 173.0,261.49 174.0,261.23 175.0,260.92 176.0,260.57 177.0,260.16 178.0,259.72 179.0,259.24 180.0,258.74 181.0,258.19 182.0,257.58 183.0,256.91 184.0,256.17 185.0,255.37 186.0,254.47 187.0,253.49 188.0,252.45 189.0,251.39 190.0,250.28 191.0,249.13 192.0,247.95 193.0,246.78 194.0,245.64 195.0,244.51 196.0,243.40 197.0,242.33 198.0,241.31 199.0,240.31 200.0,239.34 201.0,238.45 202.0,237.69 203.0,237.04 204.0,236.53 205.0,236.29 206.0,236.35 207.0,236.61 208.0,237.00 209.0,237.61 210.0,238.43 211.0,239.32 212.0,240.19 213.0,241.05 214.0,241.94 215.0,242.90 216.0,243.96 217.0,245.13 218.0,246.44 219.0,247.92 220.0,249.62 221.0,251.42 222.0,253.09 223.0,254.61 224.0,256.05 225.0,257.47 226.0,258.86 227.0,260.19 228.0,261.37 229.0,262.42 230.0,263.35 231.0,264.08 232.0,264.61 233.0,265.02 234.0,265.28 235.0,265.38 236.0,265.40 237.0,265.40 238.0,265.40 239.0,265.40 240.0,265.40 241.0,265.40 242.0,265.40 243.0,265.40 244.0,265.40 245.2,265.40" fill="none" stroke="#000" stroke-width="1.42" stroke-linejoin="round"/>
</g>
<clipPath id="c2"><rect x="254.2" y="23.0" width="176.5" height="242.39999999999998"/></clipPath>
<g clip-path="url(#c2)">
<polygon points="254.2,67.40 254.2,67.40 255.2,67.40 256.2,67.40 257.2,67.40 258.2,67.40 259.2,67.40 260.2,67.40 261.2,67.40 262.2,67.40 263.2,67.40 264.2,67.40 265.2,67.40 266.2,67.40 267.2,67.40 268.2,67.40 269.2,67.40 270.2,67.40 271.2,67.40 272.2,67.40 273.2,67.40 274.2,67.40 275.2,67.40 276.2,67.40 277.2,67.40 278.2,67.40 279.2,67.40 280.2,67.40 281.2,67.40 282.2,67.40 283.2,67.40 284.2,67.40 285.2,67.40 286.2,67.40 287.2,67.40 288.2,67.40 289.2,67.40 290.2,67.40 291.2,67.40 292.2,67.40 293.2,67.40 294.2,67.40 295.2,67.40 296.2,67.40 297.2,67.40 298.2,67.40 299.2,67.40 300.2,67.40 301.2,67.40 302.2,67.40 303.2,67.40 304.2,67.40 305.2,67.40 306.2,67.40 307.2,67.39 308.2,67.36 309.2,67.29 310.2,67.17 311.2,66.98 312.2,66.73 313.2,66.42 314.2,66.03 315.2,65.52 316.2,64.83 317.2,63.92 318.2,62.82 319.2,61.57 320.2,60.17 321.2,58.60 322.2,56.89 323.2,55.09 324.2,53.22 325.2,51.30 326.2,49.35 327.2,47.39 328.2,45.45 329.2,43.58 330.2,41.77 331.2,40.00 332.2,38.26 333.2,36.51 334.2,34.77 335.2,33.11 336.2,31.64 337.2,30.40 338.2,29.38 339.2,28.58 340.2,28.04 341.2,27.80 342.2,27.87 343.2,28.20 344.2,28.73 345.2,29.44 346.2,30.36 347.2,31.51 348.2,32.85 349.2,34.30 350.2,35.79 351.2,37.29 352.2,38.81 353.2,40.33 354.2,41.84 355.2,43.34 356.2,44.83 357.2,46.28 358.2,47.66 359.2,48.99 360.2,50.25 361.2,51.46 362.2,52.62 363.2,53.73 364.2,54.80 365.2,55.83 366.2,56.80 367.2,57.71 368.2,58.57 369.2,59.37 370.2,60.11 371.2,60.80 372.2,61.42 373.2,61.98 374.2,62.50 375.2,62.97 376.2,63.42 377.2,63.84 378.2,64.24 379.2,64.60 380.2,64.93 381.2,65.21 382.2,65.46 383.2,65.68 384.2,65.89 385.2,66.09 386.2,66.26 387.2,66.42 388.2,66.56 389.2,66.68 390.2,66.78 391.2,66.86 392.2,66.94 393.2,67.01 394.2,67.08 395.2,67.14 396.2,67.20 397.2,67.25 398.2,67.30 399.2,67.33 400.2,67.36 401.2,67.38 402.2,67.39 403.2,67.40 404.2,67.40 405.2,67.40 406.2,67.40 407.2,67.40 408.2,67.40 409.2,67.40 410.2,67.40 411.2,67.40 412.2,67.40 413.2,67.40 414.2,67.40 415.2,67.40 416.2,67.40 417.2,67.40 418.2,67.40 419.2,67.40 420.2,67.40 421.2,67.40 422.2,67.40 423.2,67.40 424.2,67.40 425.2,67.40 426.2,67.40 427.2,67.40 428.2,67.40 429.2,67.40 430.7,67.40 430.7,67.40" fill="#b3b3b3" fill-opacity="0.5"/>
<polyline points="254.2,67.40 255.2,67.40 256.2,67.40 257.2,67.40 258.2,67.40 259.2,67.40 260.2,67.40 261.2,67.40 262.2,67.40 263.2,67.40 264.2,67.40 265.2,67.40 266.2,67.40 267.2,67.40 268.2,67.40 269.2,67.40 270.2,67.40 271.2,67.40 272.2,67.40 273.2,67.40 274.2,67.40 275.2,67.40 276.2,67.40 277.2,67.40 278.2,67.40 279.2,67.40 280.2,67.40 281.2,67.40 282.2,67.40 283.2,67.40 284.2,67.40 285.2,67.40 286.2,67.40 287.2,67.40 288.2,67.40 289.2,67.40 290.2,67.40 291.2,67.40 292.2,67.40 293.2,67.40 294.2,67.40 295.2,67.40 296.2,67.40 297.2,67.40 298.2,67.40 299.2,67.40 300.2,67.40 301.2,67.40 302.2,67.40 303.2,67.40 304.2,67.40 305.2,67.40 306.2,67.40 307.2,67.39 308.2,67.36 309.2,67.29 310.2,67.17 311.2,66.98 312.2,66.73 313.2,66.42 314.2,66.03 315.2,65.52 316.2,64.83 317.2,63.92 318.2,62.82 319.2,61.57 320.2,60.17 321.2,58.60 322.2,56.89 323.2,55.09 324.2,53.22 325.2,51.30 326.2,49.35 327.2,47.39 328.2,45.45 329.2,43.58 330.2,41.77 331.2,40.00 332.2,38.26 333.2,36.51 334.2,34.77 335.2,33.11 336.2,31.64 337.2,30.40 338.2,29.38 339.2,28.58 340.2,28.04 341.2,27.80 342.2,27.87 343.2,28.20 344.2,28.73 345.2,29.44 346.2,30.36 347.2,31.51 348.2,32.85 349.2,34.30 350.2,35.79 351.2,37.29 352.2,38.81 353.2,40.33 354.2,41.84 355.2,43.34 356.2,44.83 357.2,46.28 358.2,47.66 359.2,48.99 360.2,50.25 361.2,51.46 362.2,52.62 363.2,53.73 364.2,54.80 365.2,55.83 366.2,56.80 367.2,57.71 368.2,58.57 369.2,59.37 370.2,60.11 371.2,60.80 372.2,61.42 373.2,61.98 374.2,62.50 375.2,62.97 376.2,63.42 377.2,63.84 378.2,64.24 379.2,64.60 380.2,64.93 381.2,65.21 382.2,65.46 383.2,65.68 384.2,65.89 385.2,66.09 386.2,66.26 387.2,66.42 388.2,66.56 389.2,66.68 390.2,66.78 391.2,66.86 392.2,66.94 393.2,67.01 394.2,67.08 395.2,67.14 396.2,67.20 397.2,67.25 398.2,67.30 399.2,67.33 400.2,67.36 401.2,67.38 402.2,67.39 403.2,67.40 404.2,67.40 405.2,67.40 406.2,67.40 407.2,67.40 408.2,67.40 409.2,67.40 410.2,67.40 411.2,67.40 412.2,67.40 413.2,67.40 414.2,67.40 415.2,67.40 416.2,67.40 417.2,67.40 418.2,67.40 419.2,67.40 420.2,67.40 421.2,67.40 422.2,67.40 423.2,67.40 424.2,67.40 425.2,67.40 426.2,67.40 427.2,67.40 428.2,67.40 429.2,67.40 430.7,67.40" fill="none" stroke="#000" stroke-width="1.42" stroke-linejoin="round"/>
<polygon points="254.2,69.38 254.2,69.38 255.2,69.38 256.2,69.38 257.2,69.38 258.2,69.38 259.2,69.38 260.2,69.38 261.2,69.38 262.2,69.38 263.2,69.38 264.2,69.38 265.2,69.38 266.2,69.38 267.2,69.38 268.2,69.38 269.2,69.38 270.2,69.38 271.2,69.38 272.2,69.38 273.2,69.38 274.2,69.38 275.2,69.38 276.2,69.38 277.2,69.38 278.2,69.38 279.2,69.38 280.2,69.38 281.2,69.38 282.2,69.38 283.2,69.38 284.2,69.38 285.2,69.38 286.2,69.38 287.2,69.38 288.2,69.38 289.2,69.38 290.2,69.38 291.2,69.38 292.2,69.38 293.2,69.38 294.2,69.38 295.2,69.38 296.2,69.38 297.2,69.38 298.2,69.38 299.2,69.38 300.2,69.38 301.2,69.38 302.2,69.38 303.2,69.38 304.2,69.38 305.2,69.38 306.2,69.38 307.2,69.38 308.2,69.37 309.2,69.34 310.2,69.27 311.2,69.13 312.2,68.93 313.2,68.66 314.2,68.33 315.2,67.91 316.2,67.35 317.2,66.58 318.2,65.59 319.2,64.41 320.2,63.06 321.2,61.55 322.2,59.88 323.2,58.07 324.2,56.18 325.2,54.23 326.2,52.23 327.2,50.20 328.2,48.19 329.2,46.24 330.2,44.35 331.2,42.51 332.2,40.70 333.2,38.90 334.2,37.10 335.2,35.38 336.2,33.82 337.2,32.51 338.2,31.44 339.2,30.59 340.2,30.02 341.2,29.78 342.2,29.87 343.2,30.24 344.2,30.83 345.2,31.64 346.2,32.68 347.2,33.98 348.2,35.46 349.2,37.02 350.2,38.62 351.2,40.22 352.2,41.84 353.2,43.45 354.2,45.05 355.2,46.64 356.2,48.18 357.2,49.65 358.2,51.06 359.2,52.40 360.2,53.67 361.2,54.90 362.2,56.07 363.2,57.19 364.2,58.26 365.2,59.26 366.2,60.20 367.2,61.07 368.2,61.88 369.2,62.63 370.2,63.30 371.2,63.91 372.2,64.46 373.2,64.97 374.2,65.44 375.2,65.88 376.2,66.30 377.2,66.68 378.2,67.01 379.2,67.29 380.2,67.55 381.2,67.78 382.2,67.99 383.2,68.19 384.2,68.36 385.2,68.51 386.2,68.64 387.2,68.75 388.2,68.84 389.2,68.92 390.2,69.00 391.2,69.07 392.2,69.14 393.2,69.20 394.2,69.25 395.2,69.29 396.2,69.33 397.2,69.35 398.2,69.37 399.2,69.38 400.2,69.38 401.2,69.38 402.2,69.38 403.2,69.38 404.2,69.38 405.2,69.38 406.2,69.38 407.2,69.38 408.2,69.38 409.2,69.38 410.2,69.38 411.2,69.38 412.2,69.38 413.2,69.38 414.2,69.38 415.2,69.38 416.2,69.38 417.2,69.38 418.2,69.38 419.2,69.38 420.2,69.38 421.2,69.38 422.2,69.38 423.2,69.38 424.2,69.38 425.2,69.38 426.2,69.38 427.2,69.38 428.2,69.38 429.2,69.38 430.7,69.38 430.7,69.38" fill="#b3b3b3" fill-opacity="0.5"/>
<polyline points="254.2,69.38 255.2,69.38 256.2,69.38 257.2,69.38 258.2,69.38 259.2,69.38 260.2,69.38 261.2,69.38 262.2,69.38 263.2,69.38 264.2,69.38 265.2,69.38 266.2,69.38 267.2,69.38 268.2,69.38 269.2,69.38 270.2,69.38 271.2,69.38 272.2,69.38 273.2,69.38 274.2,69.38 275.2,69.38 276.2,69.38 277.2,69.38 278.2,69.38 279.2,69.38 280.2,69.38 281.2,69.38 282.2,69.38 283.2,69.38 284.2,69.38 285.2,69.38 286.2,69.38 287.2,69.38 288.2,69.38 289.2,69.38 290.2,69.38 291.2,69.38 292.2,69.38 293.2,69.38 294.2,69.38 295.2,69.38 296.2,69.38 297.2,69.38 298.2,69.38 299.2,69.38 300.2,69.38 301.2,69.38 302.2,69.38 303.2,69.38 304.2,69.38 305.2,69.38 306.2,69.38 307.2,69.38 308.2,69.37 309.2,69.34 310.2,69.27 311.2,69.13 312.2,68.93 313.2,68.66 314.2,68.33 315.2,67.91 316.2,67.35 317.2,66.58 318.2,65.59 319.2,64.41 320.2,63.06 321.2,61.55 322.2,59.88 323.2,58.07 324.2,56.18 325.2,54.23 326.2,52.23 327.2,50.20 328.2,48.19 329.2,46.24 330.2,44.35 331.2,42.51 332.2,40.70 333.2,38.90 334.2,37.10 335.2,35.38 336.2,33.82 337.2,32.51 338.2,31.44 339.2,30.59 340.2,30.02 341.2,29.78 342.2,29.87 343.2,30.24 344.2,30.83 345.2,31.64 346.2,32.68 347.2,33.98 348.2,35.46 349.2,37.02 350.2,38.62 351.2,40.22 352.2,41.84 353.2,43.45 354.2,45.05 355.2,46.64 356.2,48.18 357.2,49.65 358.2,51.06 359.2,52.40 360.2,53.67 361.2,54.90 362.2,56.07 363.2,57.19 364.2,58.26 365.2,59.26 366.2,60.20 367.2,61.07 368.2,61.88 369.2,62.63 370.2,63.30 371.2,63.91 372.2,64.46 373.2,64.97 374.2,65.44 375.2,65.88 376.2,66.30 377.2,66.68 378.2,67.01 379.2,67.29 380.2,67.55 381.2,67.78 382.2,67.99 383.2,68.19 384.2,68.36 385.2,68.51 386.2,68.64 387.2,68.75 388.2,68.84 389.2,68.92 390.2,69.00 391.2,69.07 392.2,69.14 393.2,69.20 394.2,69.25 395.2,69.29 396.2,69.33 397.2,69.35 398.2,69.37 399.2,69.38 400.2,69.38 401.2,69.38 402.2,69.38 403.2,69.38 404.2,69.38 405.2,69.38 406.2,69.38 407.2,69.38 408.2,69.38 409.2,69.38 410.2,69.38 411.2,69.38 412.2,69.38 413.2,69.38 414.2,69.38 415.2,69.38 416.2,69.38 417.2,69.38 418.2,69.38 419.2,69.38 420.2,69.38 421.2,69.38 422.2,69.38 423.2,69.38 424.2,69.38 425.2,69.38 426.2,69.38 427.2,69.38 428.2,69.38 429.2,69.38 430.7,69.38" fill="none" stroke="#000" stroke-width="1.42" stroke-linejoin="round"/>
<polygon points="254.2,87.20 254.2,87.20 255.2,87.20 256.2,87.20 257.2,87.20 258.2,87.20 259.2,87.20 260.2,87.20 261.2,87.20 262.2,87.20 263.2,87.20 264.2,87.20 265.2,87.20 266.2,87.20 267.2,87.20 268.2,87.20 269.2,87.20 270.2,87.20 271.2,87.20 272.2,87.20 273.2,87.20 274.2,87.20 275.2,87.20 276.2,87.20 277.2,87.20 278.2,87.20 279.2,87.20 280.2,87.20 281.2,87.20 282.2,87.20 283.2,87.20 284.2,87.20 285.2,87.20 286.2,87.20 287.2,87.20 288.2,87.20 289.2,87.20 290.2,87.20 291.2,87.20 292.2,87.20 293.2,87.20 294.2,87.20 295.2,87.20 296.2,87.20 297.2,87.20 298.2,87.20 299.2,87.20 300.2,87.20 301.2,87.20 302.2,87.20 303.2,87.20 304.2,87.20 305.2,87.20 306.2,87.20 307.2,87.20 308.2,87.20 309.2,87.19 310.2,87.15 311.2,87.06 312.2,86.89 313.2,86.66 314.2,86.35 315.2,85.97 316.2,85.49 317.2,84.82 318.2,83.91 319.2,82.77 320.2,81.42 321.2,79.90 322.2,78.19 323.2,76.30 324.2,74.29 325.2,72.19 326.2,70.03 327.2,67.82 328.2,65.60 329.2,63.41 330.2,61.29 331.2,59.24 332.2,57.24 333.2,55.26 334.2,53.29 335.2,51.33 336.2,49.51 337.2,47.92 338.2,46.60 339.2,45.54 340.2,44.75 341.2,44.29 342.2,44.20 343.2,44.44 344.2,44.95 345.2,45.68 346.2,46.64 347.2,47.86 348.2,49.33 349.2,50.95 350.2,52.63 351.2,54.33 352.2,56.04 353.2,57.76 354.2,59.47 355.2,61.17 356.2,62.85 357.2,64.48 358.2,66.04 359.2,67.52 360.2,68.93 361.2,70.28 362.2,71.58 363.2,72.82 364.2,74.01 365.2,75.15 366.2,76.21 367.2,77.21 368.2,78.14 369.2,79.01 370.2,79.80 371.2,80.53 372.2,81.18 373.2,81.77 374.2,82.32 375.2,82.83 376.2,83.31 377.2,83.76 378.2,84.17 379.2,84.53 380.2,84.85 381.2,85.13 382.2,85.38 383.2,85.62 384.2,85.83 385.2,86.02 386.2,86.20 387.2,86.34 388.2,86.47 389.2,86.57 390.2,86.66 391.2,86.75 392.2,86.82 393.2,86.90 394.2,86.96 395.2,87.02 396.2,87.08 397.2,87.12 398.2,87.15 399.2,87.18 400.2,87.19 401.2,87.20 402.2,87.20 403.2,87.20 404.2,87.20 405.2,87.20 406.2,87.20 407.2,87.20 408.2,87.20 409.2,87.20 410.2,87.20 411.2,87.20 412.2,87.20 413.2,87.20 414.2,87.20 415.2,87.20 416.2,87.20 417.2,87.20 418.2,87.20 419.2,87.20 420.2,87.20 421.2,87.20 422.2,87.20 423.2,87.20 424.2,87.20 425.2,87.20 426.2,87.20 427.2,87.20 428.2,87.20 429.2,87.20 430.7,87.20 430.7,87.20" fill="#b3b3b3" fill-opacity="0.5"/>
<polyline points="254.2,87.20 255.2,87.20 256.2,87.20 257.2,87.20 258.2,87.20 259.2,87.20 260.2,87.20 261.2,87.20 262.2,87.20 263.2,87.20 264.2,87.20 265.2,87.20 266.2,87.20 267.2,87.20 268.2,87.20 269.2,87.20 270.2,87.20 271.2,87.20 272.2,87.20 273.2,87.20 274.2,87.20 275.2,87.20 276.2,87.20 277.2,87.20 278.2,87.20 279.2,87.20 280.2,87.20 281.2,87.20 282.2,87.20 283.2,87.20 284.2,87.20 285.2,87.20 286.2,87.20 287.2,87.20 288.2,87.20 289.2,87.20 290.2,87.20 291.2,87.20 292.2,87.20 293.2,87.20 294.2,87.20 295.2,87.20 296.2,87.20 297.2,87.20 298.2,87.20 299.2,87.20 300.2,87.20 301.2,87.20 302.2,87.20 303.2,87.20 304.2,87.20 305.2,87.20 306.2,87.20 307.2,87.20 308.2,87.20 309.2,87.19 310.2,87.15 311.2,87.06 312.2,86.89 313.2,86.66 314.2,86.35 315.2,85.97 316.2,85.49 317.2,84.82 318.2,83.91 319.2,82.77 320.2,81.42 321.2,79.90 322.2,78.19 323.2,76.30 324.2,74.29 325.2,72.19 326.2,70.03 327.2,67.82 328.2,65.60 329.2,63.41 330.2,61.29 331.2,59.24 332.2,57.24 333.2,55.26 334.2,53.29 335.2,51.33 336.2,49.51 337.2,47.92 338.2,46.60 339.2,45.54 340.2,44.75 341.2,44.29 342.2,44.20 343.2,44.44 344.2,44.95 345.2,45.68 346.2,46.64 347.2,47.86 348.2,49.33 349.2,50.95 350.2,52.63 351.2,54.33 352.2,56.04 353.2,57.76 354.2,59.47 355.2,61.17 356.2,62.85 357.2,64.48 358.2,66.04 359.2,67.52 360.2,68.93 361.2,70.28 362.2,71.58 363.2,72.82 364.2,74.01 365.2,75.15 366.2,76.21 367.2,77.21 368.2,78.14 369.2,79.01 370.2,79.80 371.2,80.53 372.2,81.18 373.2,81.77 374.2,82.32 375.2,82.83 376.2,83.31 377.2,83.76 378.2,84.17 379.2,84.53 380.2,84.85 381.2,85.13 382.2,85.38 383.2,85.62 384.2,85.83 385.2,86.02 386.2,86.20 387.2,86.34 388.2,86.47 389.2,86.57 390.2,86.66 391.2,86.75 392.2,86.82 393.2,86.90 394.2,86.96 395.2,87.02 396.2,87.08 397.2,87.12 398.2,87.15 399.2,87.18 400.2,87.19 401.2,87.20 402.2,87.20 403.2,87.20 404.2,87.20 405.2,87.20 406.2,87.20 407.2,87.20 408.2,87.20 409.2,87.20 410.2,87.20 411.2,87.20 412.2,87.20 413.2,87.20 414.2,87.20 415.2,87.20 416.2,87.20 417.2,87.20 418.2,87.20 419.2,87.20 420.2,87.20 421.2,87.20 422.2,87.20 423.2,87.20 424.2,87.20 425.2,87.20 426.2,87.20 427.2,87.20 428.2,87.20 429.2,87.20 430.7,87.20" fill="none" stroke="#000" stroke-width="1.42" stroke-linejoin="round"/>
<polygon points="254.2,107.00 254.2,107.00 255.2,107.00 256.2,107.00 257.2,107.00 258.2,107.00 259.2,107.00 260.2,107.00 261.2,107.00 262.2,107.00 263.2,107.00 264.2,107.00 265.2,107.00 266.2,107.00 267.2,107.00 268.2,107.00 269.2,107.00 270.2,107.00 271.2,107.00 272.2,107.00 273.2,107.00 274.2,107.00 275.2,107.00 276.2,107.00 277.2,107.00 278.2,107.00 279.2,107.00 280.2,107.00 281.2,107.00 282.2,107.00 283.2,107.00 284.2,107.00 285.2,107.00 286.2,107.00 287.2,107.00 288.2,107.00 289.2,107.00 290.2,107.00 291.2,107.00 292.2,107.00 293.2,107.00 294.2,107.00 295.2,107.00 296.2,107.00 297.2,107.00 298.2,107.00 299.2,107.00 300.2,107.00 301.2,107.00 302.2,107.00 303.2,107.00 304.2,107.00 305.2,107.00 306.2,107.00 307.2,107.00 308.2,106.99 309.2,106.95 310.2,106.87 311.2,106.73 312.2,106.51 313.2,106.22 314.2,105.87 315.2,105.42 316.2,104.82 317.2,103.99 318.2,102.93 319.2,101.68 320.2,100.25 321.2,98.65 322.2,96.87 323.2,94.96 324.2,92.96 325.2,90.90 326.2,88.78 327.2,86.65 328.2,84.53 329.2,82.46 330.2,80.47 331.2,78.53 332.2,76.63 333.2,74.73 334.2,72.83 335.2,71.00 336.2,69.37 337.2,67.99 338.2,66.86 339.2,65.96 340.2,65.36 341.2,65.10 342.2,65.18 343.2,65.55 344.2,66.14 345.2,66.93 346.2,67.96 347.2,69.25 348.2,70.74 349.2,72.33 350.2,73.95 351.2,75.59 352.2,77.24 353.2,78.89 354.2,80.54 355.2,82.17 356.2,83.77 357.2,85.32 358.2,86.80 359.2,88.20 360.2,89.55 361.2,90.83 362.2,92.06 363.2,93.25 364.2,94.38 365.2,95.46 366.2,96.48 367.2,97.42 368.2,98.31 369.2,99.13 370.2,99.89 371.2,100.57 372.2,101.20 373.2,101.76 374.2,102.28 375.2,102.77 376.2,103.23 377.2,103.66 378.2,104.06 379.2,104.41 380.2,104.71 381.2,104.98 382.2,105.22 383.2,105.45 384.2,105.65 385.2,105.84 386.2,106.01 387.2,106.15 388.2,106.27 389.2,106.38 390.2,106.47 391.2,106.55 392.2,106.62 393.2,106.69 394.2,106.76 395.2,106.82 396.2,106.87 397.2,106.91 398.2,106.95 399.2,106.97 400.2,106.99 401.2,107.00 402.2,107.00 403.2,107.00 404.2,107.00 405.2,107.00 406.2,107.00 407.2,107.00 408.2,107.00 409.2,107.00 410.2,107.00 411.2,107.00 412.2,107.00 413.2,107.00 414.2,107.00 415.2,107.00 416.2,107.00 417.2,107.00 418.2,107.00 419.2,107.00 420.2,107.00 421.2,107.00 422.2,107.00 423.2,107.00 424.2,107.00 425.2,107.00 426.2,107.00 427.2,107.00 428.2,107.00 429.2,107.00 430.7,107.00 430.7,107.00" fill="#b3b3b3" fill-opacity="0.5"/>
<polyline points="254.2,107.00 255.2,107.00 256.2,107.00 257.2,107.00 258.2,107.00 259.2,107.00 260.2,107.00 261.2,107.00 262.2,107.00 263.2,107.00 264.2,107.00 265.2,107.00 266.2,107.00 267.2,107.00 268.2,107.00 269.2,107.00 270.2,107.00 271.2,107.00 272.2,107.00 273.2,107.00 274.2,107.00 275.2,107.00 276.2,107.00 277.2,107.00 278.2,107.00 279.2,107.00 280.2,107.00 281.2,107.00 282.2,107.00 283.2,107.00 284.2,107.00 285.2,107.00 286.2,107.00 287.2,107.00 288.2,107.00 289.2,107.00 290.2,107.00 291.2,107.00 292.2,107.00 293.2,107.00 294.2,107.00 295.2,107.00 296.2,107.00 297.2,107.00 298.2,107.00 299.2,107.00 300.2,107.00 301.2,107.00 302.2,107.00 303.2,107.00 304.2,107.00 305.2,107.00 306.2,107.00 307.2,107.00 308.2,106.99 309.2,106.95 310.2,106.87 311.2,106.73 312.2,106.51 313.2,106.22 314.2,105.87 315.2,105.42 316.2,104.82 317.2,103.99 318.2,102.93 319.2,101.68 320.2,100.25 321.2,98.65 322.2,96.87 323.2,94.96 324.2,92.96 325.2,90.90 326.2,88.78 327.2,86.65 328.2,84.53 329.2,82.46 330.2,80.47 331.2,78.53 332.2,76.63 333.2,74.73 334.2,72.83 335.2,71.00 336.2,69.37 337.2,67.99 338.2,66.86 339.2,65.96 340.2,65.36 341.2,65.10 342.2,65.18 343.2,65.55 344.2,66.14 345.2,66.93 346.2,67.96 347.2,69.25 348.2,70.74 349.2,72.33 350.2,73.95 351.2,75.59 352.2,77.24 353.2,78.89 354.2,80.54 355.2,82.17 356.2,83.77 357.2,85.32 358.2,86.80 359.2,88.20 360.2,89.55 361.2,90.83 362.2,92.06 363.2,93.25 364.2,94.38 365.2,95.46 366.2,96.48 367.2,97.42 368.2,98.31 369.2,99.13 370.2,99.89 371.2,100.57 372.2,101.20 373.2,101.76 374.2,102.28 375.2,102.77 376.2,103.23 377.2,103.66 378.2,104.06 379.2,104.41 380.2,104.71 381.2,104.98 382.2,105.22 383.2,105.45 384.2,105.65 385.2,105.84 386.2,106.01 387.2,106.15 388.2,106.27 389.2,106.38 390.2,106.47 391.2,106.55 392.2,106.62 393.2,106.69 394.2,106.76 395.2,106.82 396.2,106.87 397.2,106.91 398.2,106.95 399.2,106.97 400.2,106.99 401.2,107.00 402.2,107.00 403.2,107.00 404.2,107.00 405.2,107.00 406.2,107.00 407.2,107.00 408.2,107.00 409.2,107.00 410.2,107.00 411.2,107.00 412.2,107.00 413.2,107.00 414.2,107.00 415.2,107.00 416.2,107.00 417.2,107.00 418.2,107.00 419.2,107.00 420.2,107.00 421.2,107.00 422.2,107.00 423.2,107.00 424.2,107.00 425.2,107.00 426.2,107.00 427.2,107.00 428.2,107.00 429.2,107.00 430.7,107.00" fill="none" stroke="#000" stroke-width="1.42" stroke-linejoin="round"/>
<polygon points="254.2,126.80 254.2,126.80 255.2,126.80 256.2,126.80 257.2,126.80 258.2,126.80 259.2,126.80 260.2,126.80 261.2,126.80 262.2,126.80 263.2,126.80 264.2,126.80 265.2,126.80 266.2,126.80 267.2,126.80 268.2,126.80 269.2,126.80 270.2,126.80 271.2,126.80 272.2,126.80 273.2,126.80 274.2,126.80 275.2,126.80 276.2,126.80 277.2,126.80 278.2,126.80 279.2,126.80 280.2,126.80 281.2,126.80 282.2,126.80 283.2,126.80 284.2,126.80 285.2,126.80 286.2,126.80 287.2,126.80 288.2,126.80 289.2,126.80 290.2,126.80 291.2,126.80 292.2,126.80 293.2,126.80 294.2,126.80 295.2,126.80 296.2,126.80 297.2,126.80 298.2,126.80 299.2,126.80 300.2,126.80 301.2,126.80 302.2,126.80 303.2,126.80 304.2,126.80 305.2,126.80 306.2,126.79 307.2,126.76 308.2,126.68 309.2,126.54 310.2,126.32 311.2,126.04 312.2,125.68 313.2,125.22 314.2,124.61 315.2,123.78 316.2,122.69 317.2,121.40 318.2,119.93 319.2,118.28 320.2,116.45 321.2,114.48 322.2,112.41 323.2,110.28 324.2,108.10 325.2,105.90 326.2,103.71 327.2,101.59 328.2,99.54 329.2,97.54 330.2,95.57 331.2,93.61 332.2,91.66 333.2,89.79 334.2,88.14 335.2,86.76 336.2,85.63 337.2,84.76 338.2,84.20 339.2,84.00 340.2,84.15 341.2,84.58 342.2,85.24 343.2,86.11 344.2,87.24 345.2,88.63 346.2,90.21 347.2,91.86 348.2,93.54 349.2,95.24 350.2,96.95 351.2,98.65 352.2,100.34 353.2,102.02 354.2,103.65 355.2,105.22 356.2,106.72 357.2,108.15 358.2,109.51 359.2,110.81 360.2,112.07 361.2,113.27 362.2,114.41 363.2,115.50 364.2,116.51 365.2,117.46 366.2,118.34 367.2,119.16 368.2,119.90 369.2,120.58 370.2,121.19 371.2,121.74 372.2,122.26 373.2,122.75 374.2,123.21 375.2,123.63 376.2,124.01 377.2,124.34 378.2,124.63 379.2,124.89 380.2,125.13 381.2,125.35 382.2,125.56 383.2,125.73 384.2,125.89 385.2,126.02 386.2,126.13 387.2,126.23 388.2,126.31 389.2,126.39 390.2,126.47 391.2,126.54 392.2,126.60 393.2,126.66 394.2,126.70 395.2,126.74 396.2,126.77 397.2,126.79 398.2,126.80 399.2,126.80 400.2,126.80 401.2,126.80 402.2,126.80 403.2,126.80 404.2,126.80 405.2,126.80 406.2,126.80 407.2,126.80 408.2,126.80 409.2,126.80 410.2,126.80 411.2,126.80 412.2,126.80 413.2,126.80 414.2,126.80 415.2,126.80 416.2,126.80 417.2,126.80 418.2,126.80 419.2,126.80 420.2,126.80 421.2,126.80 422.2,126.80 423.2,126.80 424.2,126.80 425.2,126.80 426.2,126.80 427.2,126.80 428.2,126.80 429.2,126.80 430.7,126.80 430.7,126.80" fill="#b3b3b3" fill-opacity="0.5"/>
<polyline points="254.2,126.80 255.2,126.80 256.2,126.80 257.2,126.80 258.2,126.80 259.2,126.80 260.2,126.80 261.2,126.80 262.2,126.80 263.2,126.80 264.2,126.80 265.2,126.80 266.2,126.80 267.2,126.80 268.2,126.80 269.2,126.80 270.2,126.80 271.2,126.80 272.2,126.80 273.2,126.80 274.2,126.80 275.2,126.80 276.2,126.80 277.2,126.80 278.2,126.80 279.2,126.80 280.2,126.80 281.2,126.80 282.2,126.80 283.2,126.80 284.2,126.80 285.2,126.80 286.2,126.80 287.2,126.80 288.2,126.80 289.2,126.80 290.2,126.80 291.2,126.80 292.2,126.80 293.2,126.80 294.2,126.80 295.2,126.80 296.2,126.80 297.2,126.80 298.2,126.80 299.2,126.80 300.2,126.80 301.2,126.80 302.2,126.80 303.2,126.80 304.2,126.80 305.2,126.80 306.2,126.79 307.2,126.76 308.2,126.68 309.2,126.54 310.2,126.32 311.2,126.04 312.2,125.68 313.2,125.22 314.2,124.61 315.2,123.78 316.2,122.69 317.2,121.40 318.2,119.93 319.2,118.28 320.2,116.45 321.2,114.48 322.2,112.41 323.2,110.28 324.2,108.10 325.2,105.90 326.2,103.71 327.2,101.59 328.2,99.54 329.2,97.54 330.2,95.57 331.2,93.61 332.2,91.66 333.2,89.79 334.2,88.14 335.2,86.76 336.2,85.63 337.2,84.76 338.2,84.20 339.2,84.00 340.2,84.15 341.2,84.58 342.2,85.24 343.2,86.11 344.2,87.24 345.2,88.63 346.2,90.21 347.2,91.86 348.2,93.54 349.2,95.24 350.2,96.95 351.2,98.65 352.2,100.34 353.2,102.02 354.2,103.65 355.2,105.22 356.2,106.72 357.2,108.15 358.2,109.51 359.2,110.81 360.2,112.07 361.2,113.27 362.2,114.41 363.2,115.50 364.2,116.51 365.2,117.46 366.2,118.34 367.2,119.16 368.2,119.90 369.2,120.58 370.2,121.19 371.2,121.74 372.2,122.26 373.2,122.75 374.2,123.21 375.2,123.63 376.2,124.01 377.2,124.34 378.2,124.63 379.2,124.89 380.2,125.13 381.2,125.35 382.2,125.56 383.2,125.73 384.2,125.89 385.2,126.02 386.2,126.13 387.2,126.23 388.2,126.31 389.2,126.39 390.2,126.47 391.2,126.54 392.2,126.60 393.2,126.66 394.2,126.70 395.2,126.74 396.2,126.77 397.2,126.79 398.2,126.80 399.2,126.80 400.2,126.80 401.2,126.80 402.2,126.80 403.2,126.80 404.2,126.80 405.2,126.80 406.2,126.80 407.2,126.80 408.2,126.80 409.2,126.80 410.2,126.80 411.2,126.80 412.2,126.80 413.2,126.80 414.2,126.80 415.2,126.80 416.2,126.80 417.2,126.80 418.2,126.80 419.2,126.80 420.2,126.80 421.2,126.80 422.2,126.80 423.2,126.80 424.2,126.80 425.2,126.80 426.2,126.80 427.2,126.80 428.2,126.80 429.2,126.80 430.7,126.80" fill="none" stroke="#000" stroke-width="1.42" stroke-linejoin="round"/>
<polygon points="254.2,146.60 254.2,146.60 255.2,146.60 256.2,146.60 257.2,146.60 258.2,146.60 259.2,146.60 260.2,146.60 261.2,146.60 262.2,146.60 263.2,146.60 264.2,146.60 265.2,146.60 266.2,146.60 267.2,146.60 268.2,146.60 269.2,146.60 270.2,146.60 271.2,146.60 272.2,146.60 273.2,146.60 274.2,146.60 275.2,146.60 276.2,146.60 277.2,146.60 278.2,146.60 279.2,146.60 280.2,146.60 281.2,146.60 282.2,146.60 283.2,146.60 284.2,146.60 285.2,146.60 286.2,146.60 287.2,146.60 288.2,146.60 289.2,146.60 290.2,146.60 291.2,146.60 292.2,146.60 293.2,146.60 294.2,146.60 295.2,146.60 296.2,146.60 297.2,146.60 298.2,146.60 299.2,146.60 300.2,146.60 301.2,146.60 302.2,146.60 303.2,146.60 304.2,146.60 305.2,146.59 306.2,146.56 307.2,146.48 308.2,146.34 309.2,146.13 310.2,145.86 311.2,145.52 312.2,145.09 313.2,144.51 314.2,143.72 315.2,142.70 316.2,141.47 317.2,140.08 318.2,138.52 319.2,136.78 320.2,134.90 321.2,132.93 322.2,130.90 323.2,128.81 324.2,126.70 325.2,124.60 326.2,122.54 327.2,120.56 328.2,118.63 329.2,116.74 330.2,114.86 331.2,112.98 332.2,111.15 333.2,109.49 334.2,108.08 335.2,106.91 336.2,105.99 337.2,105.33 338.2,105.00 339.2,105.01 340.2,105.33 341.2,105.87 342.2,106.61 343.2,107.58 344.2,108.80 345.2,110.24 346.2,111.79 347.2,113.40 348.2,115.02 349.2,116.65 350.2,118.28 351.2,119.91 352.2,121.53 353.2,123.13 354.2,124.67 355.2,126.15 356.2,127.57 357.2,128.91 358.2,130.20 359.2,131.43 360.2,132.62 361.2,133.76 362.2,134.84 363.2,135.86 364.2,136.82 365.2,137.71 366.2,138.55 367.2,139.32 368.2,140.02 369.2,140.65 370.2,141.23 371.2,141.76 372.2,142.25 373.2,142.71 374.2,143.15 375.2,143.55 376.2,143.91 377.2,144.23 378.2,144.50 379.2,144.75 380.2,144.98 381.2,145.19 382.2,145.39 383.2,145.56 384.2,145.71 385.2,145.84 386.2,145.94 387.2,146.04 388.2,146.12 389.2,146.20 390.2,146.27 391.2,146.34 392.2,146.40 393.2,146.45 394.2,146.50 395.2,146.54 396.2,146.57 397.2,146.58 398.2,146.59 399.2,146.60 400.2,146.60 401.2,146.60 402.2,146.60 403.2,146.60 404.2,146.60 405.2,146.60 406.2,146.60 407.2,146.60 408.2,146.60 409.2,146.60 410.2,146.60 411.2,146.60 412.2,146.60 413.2,146.60 414.2,146.60 415.2,146.60 416.2,146.60 417.2,146.60 418.2,146.60 419.2,146.60 420.2,146.60 421.2,146.60 422.2,146.60 423.2,146.60 424.2,146.60 425.2,146.60 426.2,146.60 427.2,146.60 428.2,146.60 429.2,146.60 430.7,146.60 430.7,146.60" fill="#b3b3b3" fill-opacity="0.5"/>
<polyline points="254.2,146.60 255.2,146.60 256.2,146.60 257.2,146.60 258.2,146.60 259.2,146.60 260.2,146.60 261.2,146.60 262.2,146.60 263.2,146.60 264.2,146.60 265.2,146.60 266.2,146.60 267.2,146.60 268.2,146.60 269.2,146.60 270.2,146.60 271.2,146.60 272.2,146.60 273.2,146.60 274.2,146.60 275.2,146.60 276.2,146.60 277.2,146.60 278.2,146.60 279.2,146.60 280.2,146.60 281.2,146.60 282.2,146.60 283.2,146.60 284.2,146.60 285.2,146.60 286.2,146.60 287.2,146.60 288.2,146.60 289.2,146.60 290.2,146.60 291.2,146.60 292.2,146.60 293.2,146.60 294.2,146.60 295.2,146.60 296.2,146.60 297.2,146.60 298.2,146.60 299.2,146.60 300.2,146.60 301.2,146.60 302.2,146.60 303.2,146.60 304.2,146.60 305.2,146.59 306.2,146.56 307.2,146.48 308.2,146.34 309.2,146.13 310.2,145.86 311.2,145.52 312.2,145.09 313.2,144.51 314.2,143.72 315.2,142.70 316.2,141.47 317.2,140.08 318.2,138.52 319.2,136.78 320.2,134.90 321.2,132.93 322.2,130.90 323.2,128.81 324.2,126.70 325.2,124.60 326.2,122.54 327.2,120.56 328.2,118.63 329.2,116.74 330.2,114.86 331.2,112.98 332.2,111.15 333.2,109.49 334.2,108.08 335.2,106.91 336.2,105.99 337.2,105.33 338.2,105.00 339.2,105.01 340.2,105.33 341.2,105.87 342.2,106.61 343.2,107.58 344.2,108.80 345.2,110.24 346.2,111.79 347.2,113.40 348.2,115.02 349.2,116.65 350.2,118.28 351.2,119.91 352.2,121.53 353.2,123.13 354.2,124.67 355.2,126.15 356.2,127.57 357.2,128.91 358.2,130.20 359.2,131.43 360.2,132.62 361.2,133.76 362.2,134.84 363.2,135.86 364.2,136.82 365.2,137.71 366.2,138.55 367.2,139.32 368.2,140.02 369.2,140.65 370.2,141.23 371.2,141.76 372.2,142.25 373.2,142.71 374.2,143.15 375.2,143.55 376.2,143.91 377.2,144.23 378.2,144.50 379.2,144.75 380.2,144.98 381.2,145.19 382.2,145.39 383.2,145.56 384.2,145.71 385.2,145.84 386.2,145.94 387.2,146.04 388.2,146.12 389.2,146.20 390.2,146.27 391.2,146.34 392.2,146.40 393.2,146.45 394.2,146.50 395.2,146.54 396.2,146.57 397.2,146.58 398.2,146.59 399.2,146.60 400.2,146.60 401.2,146.60 402.2,146.60 403.2,146.60 404.2,146.60 405.2,146.60 406.2,146.60 407.2,146.60 408.2,146.60 409.2,146.60 410.2,146.60 411.2,146.60 412.2,146.60 413.2,146.60 414.2,146.60 415.2,146.60 416.2,146.60 417.2,146.60 418.2,146.60 419.2,146.60 420.2,146.60 421.2,146.60 422.2,146.60 423.2,146.60 424.2,146.60 425.2,146.60 426.2,146.60 427.2,146.60 428.2,146.60 429.2,146.60 430.7,146.60" fill="none" stroke="#000" stroke-width="1.42" stroke-linejoin="round"/>
<polygon points="254.2,166.40 254.2,166.40 255.2,166.40 256.2,166.40 257.2,166.40 258.2,166.40 259.2,166.40 260.2,166.40 261.2,166.40 262.2,166.40 263.2,166.40 264.2,166.40 265.2,166.40 266.2,166.40 267.2,166.40 268.2,166.40 269.2,166.40 270.2,166.40 271.2,166.40 272.2,166.40 273.2,166.40 274.2,166.40 275.2,166.40 276.2,166.40 277.2,166.40 278.2,166.40 279.2,166.40 280.2,166.40 281.2,166.40 282.2,166.40 283.2,166.40 284.2,166.40 285.2,166.40 286.2,166.40 287.2,166.40 288.2,166.40 289.2,166.40 290.2,166.40 291.2,166.40 292.2,166.40 293.2,166.40 294.2,166.40 295.2,166.40 296.2,166.40 297.2,166.40 298.2,166.40 299.2,166.40 300.2,166.40 301.2,166.40 302.2,166.40 303.2,166.40 304.2,166.39 305.2,166.35 306.2,166.28 307.2,166.13 308.2,165.92 309.2,165.65 310.2,165.31 311.2,164.88 312.2,164.30 313.2,163.51 314.2,162.50 315.2,161.29 316.2,159.92 317.2,158.38 318.2,156.67 319.2,154.82 320.2,152.89 321.2,150.89 322.2,148.85 323.2,146.77 324.2,144.70 325.2,142.69 326.2,140.74 327.2,138.84 328.2,136.99 329.2,135.14 330.2,133.29 331.2,131.49 332.2,129.84 333.2,128.44 334.2,127.28 335.2,126.34 336.2,125.67 337.2,125.32 338.2,125.30 339.2,125.58 340.2,126.09 341.2,126.79 342.2,127.71 343.2,128.88 344.2,130.27 345.2,131.79 346.2,133.36 347.2,134.94 348.2,136.55 349.2,138.15 350.2,139.75 351.2,141.35 352.2,142.92 353.2,144.45 354.2,145.92 355.2,147.31 356.2,148.65 357.2,149.92 358.2,151.15 359.2,152.32 360.2,153.45 361.2,154.53 362.2,155.55 363.2,156.50 364.2,157.40 365.2,158.23 366.2,159.00 367.2,159.71 368.2,160.35 369.2,160.93 370.2,161.46 371.2,161.96 372.2,162.42 373.2,162.86 374.2,163.26 375.2,163.63 376.2,163.96 377.2,164.24 378.2,164.49 379.2,164.72 380.2,164.94 381.2,165.13 382.2,165.31 383.2,165.47 384.2,165.60 385.2,165.71 386.2,165.81 387.2,165.89 388.2,165.97 389.2,166.04 390.2,166.11 391.2,166.18 392.2,166.23 393.2,166.28 394.2,166.32 395.2,166.35 396.2,166.38 397.2,166.39 398.2,166.40 399.2,166.40 400.2,166.40 401.2,166.40 402.2,166.40 403.2,166.40 404.2,166.40 405.2,166.40 406.2,166.40 407.2,166.40 408.2,166.40 409.2,166.40 410.2,166.40 411.2,166.40 412.2,166.40 413.2,166.40 414.2,166.40 415.2,166.40 416.2,166.40 417.2,166.40 418.2,166.40 419.2,166.40 420.2,166.40 421.2,166.40 422.2,166.40 423.2,166.40 424.2,166.40 425.2,166.40 426.2,166.40 427.2,166.40 428.2,166.40 429.2,166.40 430.7,166.40 430.7,166.40" fill="#b3b3b3" fill-opacity="0.5"/>
<polyline points="254.2,166.40 255.2,166.40 256.2,166.40 257.2,166.40 258.2,166.40 259.2,166.40 260.2,166.40 261.2,166.40 262.2,166.40 263.2,166.40 264.2,166.40 265.2,166.40 266.2,166.40 267.2,166.40 268.2,166.40 269.2,166.40 270.2,166.40 271.2,166.40 272.2,166.40 273.2,166.40 274.2,166.40 275.2,166.40 276.2,166.40 277.2,166.40 278.2,166.40 279.2,166.40 280.2,166.40 281.2,166.40 282.2,166.40 283.2,166.40 284.2,166.40 285.2,166.40 286.2,166.40 287.2,166.40 288.2,166.40 289.2,166.40 290.2,166.40 291.2,166.40 292.2,166.40 293.2,166.40 294.2,166.40 295.2,166.40 296.2,166.40 297.2,166.40 298.2,166.40 299.2,166.40 300.2,166.40 301.2,166.40 302.2,166.40 303.2,166.40 304.2,166.39 305.2,166.35 306.2,166.28 307.2,166.13 308.2,165.92 309.2,165.65 310.2,165.31 311.2,164.88 312.2,164.30 313.2,163.51 314.2,162.50 315.2,161.29 316.2,159.92 317.2,158.38 318.2,156.67 319.2,154.82 320.2,152.89 321.2,150.89 322.2,148.85 323.2,146.77 324.2,144.70 325.2,142.69 326.2,140.74 327.2,138.84 328.2,136.99 329.2,135.14 330.2,133.29 331.2,131.49 332.2,129.84 333.2,128.44 334.2,127.28 335.2,126.34 336.2,125.67 337.2,125.32 338.2,125.30 339.2,125.58 340.2,126.09 341.2,126.79 342.2,127.71 343.2,128.88 344.2,130.27 345.2,131.79 346.2,133.36 347.2,134.94 348.2,136.55 349.2,138.15 350.2,139.75 351.2,141.35 352.2,142.92 353.2,144.45 354.2,145.92 355.2,147.31 356.2,148.65 357.2,149.92 358.2,151.15 359.2,152.32 360.2,153.45 361.2,154.53 362.2,155.55 363.2,156.50 364.2,157.40 365.2,158.23 366.2,159.00 367.2,159.71 368.2,160.35 369.2,160.93 370.2,161.46 371.2,161.96 372.2,162.42 373.2,162.86 374.2,163.26 375.2,163.63 376.2,163.96 377.2,164.24 378.2,164.49 379.2,164.72 380.2,164.94 381.2,165.13 382.2,165.31 383.2,165.47 384.2,165.60 385.2,165.71 386.2,165.81 387.2,165.89 388.2,165.97 389.2,166.04 390.2,166.11 391.2,166.18 392.2,166.23 393.2,166.28 394.2,166.32 395.2,166.35 396.2,166.38 397.2,166.39 398.2,166.40 399.2,166.40 400.2,166.40 401.2,166.40 402.2,166.40 403.2,166.40 404.2,166.40 405.2,166.40 406.2,166.40 407.2,166.40 408.2,166.40 409.2,166.40 410.2,166.40 411.2,166.40 412.2,166.40 413.2,166.40 414.2,166.40 415.2,166.40 416.2,166.40 417.2,166.40 418.2,166.40 419.2,166.40 420.2,166.40 421.2,166.40 422.2,166.40 423.2,166.40 424.2,166.40 425.2,166.40 426.2,166.40 427.2,166.40 428.2,166.40 429.2,166.40 430.7,166.40" fill="none" stroke="#000" stroke-width="1.42" stroke-linejoin="round"/>
<polygon points="254.2,186.20 254.2,186.20 255.2,186.20 256.2,186.20 257.2,186.20 258.2,186.20 259.2,186.20 260.2,186.20 261.2,186.20 262.2,186.20 263.2,186.20 264.2,186.20 265.2,186.20 266.2,186.20 267.2,186.20 268.2,186.20 269.2,186.20 270.2,186.20 271.2,186.20 272.2,186.20 273.2,186.20 274.2,186.20 275.2,186.20 276.2,186.20 277.2,186.20 278.2,186.20 279.2,186.20 280.2,186.20 281.2,186.20 282.2,186.20 283.2,186.20 284.2,186.20 285.2,186.20 286.2,186.20 287.2,186.20 288.2,186.20 289.2,186.20 290.2,186.20 291.2,186.20 292.2,186.20 293.2,186.20 294.2,186.20 295.2,186.20 296.2,186.20 297.2,186.20 298.2,186.20 299.2,186.20 300.2,186.20 301.2,186.20 302.2,186.20 303.2,186.19 304.2,186.17 305.2,186.10 306.2,185.96 307.2,185.76 308.2,185.48 309.2,185.14 310.2,184.70 311.2,184.12 312.2,183.32 313.2,182.28 314.2,181.03 315.2,179.60 316.2,177.99 317.2,176.19 318.2,174.25 319.2,172.21 320.2,170.11 321.2,167.95 322.2,165.76 323.2,163.58 324.2,161.46 325.2,159.41 326.2,157.42 327.2,155.46 328.2,153.51 329.2,151.57 330.2,149.69 331.2,148.00 332.2,146.58 333.2,145.41 334.2,144.49 335.2,143.87 336.2,143.60 337.2,143.68 338.2,144.06 339.2,144.67 340.2,145.49 341.2,146.56 342.2,147.89 343.2,149.42 344.2,151.05 345.2,152.72 346.2,154.40 347.2,156.10 348.2,157.79 349.2,159.47 350.2,161.14 351.2,162.78 352.2,164.36 353.2,165.86 354.2,167.29 355.2,168.66 356.2,169.97 357.2,171.23 358.2,172.43 359.2,173.59 360.2,174.68 361.2,175.70 362.2,176.66 363.2,177.56 364.2,178.38 365.2,179.14 366.2,179.83 367.2,180.45 368.2,181.02 369.2,181.54 370.2,182.04 371.2,182.50 372.2,182.93 373.2,183.32 374.2,183.66 375.2,183.96 376.2,184.23 377.2,184.47 378.2,184.70 379.2,184.90 380.2,185.09 381.2,185.25 382.2,185.39 383.2,185.50 384.2,185.60 385.2,185.69 386.2,185.77 387.2,185.85 388.2,185.92 389.2,185.98 390.2,186.04 391.2,186.09 392.2,186.13 393.2,186.16 394.2,186.18 395.2,186.19 396.2,186.20 397.2,186.20 398.2,186.20 399.2,186.20 400.2,186.20 401.2,186.20 402.2,186.20 403.2,186.20 404.2,186.20 405.2,186.20 406.2,186.20 407.2,186.20 408.2,186.20 409.2,186.20 410.2,186.20 411.2,186.20 412.2,186.20 413.2,186.20 414.2,186.20 415.2,186.20 416.2,186.20 417.2,186.20 418.2,186.20 419.2,186.20 420.2,186.20 421.2,186.20 422.2,186.20 423.2,186.20 424.2,186.20 425.2,186.20 426.2,186.20 427.2,186.20 428.2,186.20 429.2,186.20 430.7,186.20 430.7,186.20" fill="#b3b3b3" fill-opacity="0.5"/>
<polyline points="254.2,186.20 255.2,186.20 256.2,186.20 257.2,186.20 258.2,186.20 259.2,186.20 260.2,186.20 261.2,186.20 262.2,186.20 263.2,186.20 264.2,186.20 265.2,186.20 266.2,186.20 267.2,186.20 268.2,186.20 269.2,186.20 270.2,186.20 271.2,186.20 272.2,186.20 273.2,186.20 274.2,186.20 275.2,186.20 276.2,186.20 277.2,186.20 278.2,186.20 279.2,186.20 280.2,186.20 281.2,186.20 282.2,186.20 283.2,186.20 284.2,186.20 285.2,186.20 286.2,186.20 287.2,186.20 288.2,186.20 289.2,186.20 290.2,186.20 291.2,186.20 292.2,186.20 293.2,186.20 294.2,186.20 295.2,186.20 296.2,186.20 297.2,186.20 298.2,186.20 299.2,186.20 300.2,186.20 301.2,186.20 302.2,186.20 303.2,186.19 304.2,186.17 305.2,186.10 306.2,185.96 307.2,185.76 308.2,185.48 309.2,185.14 310.2,184.70 311.2,184.12 312.2,183.32 313.2,182.28 314.2,181.03 315.2,179.60 316.2,177.99 317.2,176.19 318.2,174.25 319.2,172.21 320.2,170.11 321.2,167.95 322.2,165.76 323.2,163.58 324.2,161.46 325.2,159.41 326.2,157.42 327.2,155.46 328.2,153.51 329.2,151.57 330.2,149.69 331.2,148.00 332.2,146.58 333.2,145.41 334.2,144.49 335.2,143.87 336.2,143.60 337.2,143.68 338.2,144.06 339.2,144.67 340.2,145.49 341.2,146.56 342.2,147.89 343.2,149.42 344.2,151.05 345.2,152.72 346.2,154.40 347.2,156.10 348.2,157.79 349.2,159.47 350.2,161.14 351.2,162.78 352.2,164.36 353.2,165.86 354.2,167.29 355.2,168.66 356.2,169.97 357.2,171.23 358.2,172.43 359.2,173.59 360.2,174.68 361.2,175.70 362.2,176.66 363.2,177.56 364.2,178.38 365.2,179.14 366.2,179.83 367.2,180.45 368.2,181.02 369.2,181.54 370.2,182.04 371.2,182.50 372.2,182.93 373.2,183.32 374.2,183.66 375.2,183.96 376.2,184.23 377.2,184.47 378.2,184.70 379.2,184.90 380.2,185.09 381.2,185.25 382.2,185.39 383.2,185.50 384.2,185.60 385.2,185.69 386.2,185.77 387.2,185.85 388.2,185.92 389.2,185.98 390.2,186.04 391.2,186.09 392.2,186.13 393.2,186.16 394.2,186.18 395.2,186.19 396.2,186.20 397.2,186.20 398.2,186.20 399.2,186.20 400.2,186.20 401.2,186.20 402.2,186.20 403.2,186.20 404.2,186.20 405.2,186.20 406.2,186.20 407.2,186.20 408.2,186.20 409.2,186.20 410.2,186.20 411.2,186.20 412.2,186.20 413.2,186.20 414.2,186.20 415.2,186.20 416.2,186.20 417.2,186.20 418.2,186.20 419.2,186.20 420.2,186.20 421.2,186.20 422.2,186.20 423.2,186.20 424.2,186.20 425.2,186.20 426.2,186.20 427.2,186.20 428.2,186.20 429.2,186.20 430.7,186.20" fill="none" stroke="#000" stroke-width="1.42" stroke-linejoin="round"/>
<polygon points="254.2,206.00 254.2,206.00 255.2,206.00 256.2,206.00 257.2,206.00 258.2,206.00 259.2,206.00 260.2,206.00 261.2,206.00 262.2,206.00 263.2,206.00 264.2,206.00 265.2,206.00 266.2,206.00 267.2,206.00 268.2,206.00 269.2,206.00 270.2,206.00 271.2,206.00 272.2,206.00 273.2,206.00 274.2,206.00 275.2,206.00 276.2,206.00 277.2,206.00 278.2,206.00 279.2,206.00 280.2,206.00 281.2,206.00 282.2,206.00 283.2,206.00 284.2,206.00 285.2,206.00 286.2,206.00 287.2,206.00 288.2,206.00 289.2,206.00 290.2,206.00 291.2,206.00 292.2,206.00 293.2,206.00 294.2,206.00 295.2,206.00 296.2,206.00 297.2,206.00 298.2,206.00 299.2,206.00 300.2,205.99 301.2,205.97 302.2,205.90 303.2,205.77 304.2,205.57 305.2,205.31 306.2,204.97 307.2,204.56 308.2,204.00 309.2,203.24 310.2,202.25 311.2,201.05 312.2,199.67 313.2,198.12 314.2,196.40 315.2,194.52 316.2,192.55 317.2,190.51 318.2,188.42 319.2,186.29 320.2,184.17 321.2,182.09 322.2,180.08 323.2,178.14 324.2,176.23 325.2,174.34 326.2,172.44 327.2,170.59 328.2,168.89 329.2,167.44 330.2,166.24 331.2,165.28 332.2,164.58 333.2,164.22 334.2,164.20 335.2,164.49 336.2,165.01 337.2,165.74 338.2,166.69 339.2,167.90 340.2,169.33 341.2,170.90 342.2,172.51 343.2,174.14 344.2,175.78 345.2,177.43 346.2,179.07 347.2,180.70 348.2,182.31 349.2,183.87 350.2,185.37 351.2,186.79 352.2,188.15 353.2,189.45 354.2,190.70 355.2,191.89 356.2,193.04 357.2,194.14 358.2,195.17 359.2,196.14 360.2,197.04 361.2,197.88 362.2,198.66 363.2,199.36 364.2,200.00 365.2,200.59 366.2,201.12 367.2,201.62 368.2,202.08 369.2,202.52 370.2,202.93 371.2,203.30 372.2,203.61 373.2,203.89 374.2,204.14 375.2,204.37 376.2,204.59 377.2,204.78 378.2,204.95 379.2,205.11 380.2,205.23 381.2,205.34 382.2,205.44 383.2,205.52 384.2,205.60 385.2,205.67 386.2,205.74 387.2,205.80 388.2,205.85 389.2,205.90 390.2,205.94 391.2,205.97 392.2,205.98 393.2,205.99 394.2,206.00 395.2,206.00 396.2,206.00 397.2,206.00 398.2,206.00 399.2,206.00 400.2,206.00 401.2,206.00 402.2,206.00 403.2,206.00 404.2,206.00 405.2,206.00 406.2,206.00 407.2,206.00 408.2,206.00 409.2,206.00 410.2,206.00 411.2,206.00 412.2,206.00 413.2,206.00 414.2,206.00 415.2,206.00 416.2,206.00 417.2,206.00 418.2,206.00 419.2,206.00 420.2,206.00 421.2,206.00 422.2,206.00 423.2,206.00 424.2,206.00 425.2,206.00 426.2,206.00 427.2,206.00 428.2,206.00 429.2,206.00 430.7,206.00 430.7,206.00" fill="#b3b3b3" fill-opacity="0.5"/>
<polyline points="254.2,206.00 255.2,206.00 256.2,206.00 257.2,206.00 258.2,206.00 259.2,206.00 260.2,206.00 261.2,206.00 262.2,206.00 263.2,206.00 264.2,206.00 265.2,206.00 266.2,206.00 267.2,206.00 268.2,206.00 269.2,206.00 270.2,206.00 271.2,206.00 272.2,206.00 273.2,206.00 274.2,206.00 275.2,206.00 276.2,206.00 277.2,206.00 278.2,206.00 279.2,206.00 280.2,206.00 281.2,206.00 282.2,206.00 283.2,206.00 284.2,206.00 285.2,206.00 286.2,206.00 287.2,206.00 288.2,206.00 289.2,206.00 290.2,206.00 291.2,206.00 292.2,206.00 293.2,206.00 294.2,206.00 295.2,206.00 296.2,206.00 297.2,206.00 298.2,206.00 299.2,206.00 300.2,205.99 301.2,205.97 302.2,205.90 303.2,205.77 304.2,205.57 305.2,205.31 306.2,204.97 307.2,204.56 308.2,204.00 309.2,203.24 310.2,202.25 311.2,201.05 312.2,199.67 313.2,198.12 314.2,196.40 315.2,194.52 316.2,192.55 317.2,190.51 318.2,188.42 319.2,186.29 320.2,184.17 321.2,182.09 322.2,180.08 323.2,178.14 324.2,176.23 325.2,174.34 326.2,172.44 327.2,170.59 328.2,168.89 329.2,167.44 330.2,166.24 331.2,165.28 332.2,164.58 333.2,164.22 334.2,164.20 335.2,164.49 336.2,165.01 337.2,165.74 338.2,166.69 339.2,167.90 340.2,169.33 341.2,170.90 342.2,172.51 343.2,174.14 344.2,175.78 345.2,177.43 346.2,179.07 347.2,180.70 348.2,182.31 349.2,183.87 350.2,185.37 351.2,186.79 352.2,188.15 353.2,189.45 354.2,190.70 355.2,191.89 356.2,193.04 357.2,194.14 358.2,195.17 359.2,196.14 360.2,197.04 361.2,197.88 362.2,198.66 363.2,199.36 364.2,200.00 365.2,200.59 366.2,201.12 367.2,201.62 368.2,202.08 369.2,202.52 370.2,202.93 371.2,203.30 372.2,203.61 373.2,203.89 374.2,204.14 375.2,204.37 376.2,204.59 377.2,204.78 378.2,204.95 379.2,205.11 380.2,205.23 381.2,205.34 382.2,205.44 383.2,205.52 384.2,205.60 385.2,205.67 386.2,205.74 387.2,205.80 388.2,205.85 389.2,205.90 390.2,205.94 391.2,205.97 392.2,205.98 393.2,205.99 394.2,206.00 395.2,206.00 396.2,206.00 397.2,206.00 398.2,206.00 399.2,206.00 400.2,206.00 401.2,206.00 402.2,206.00 403.2,206.00 404.2,206.00 405.2,206.00 406.2,206.00 407.2,206.00 408.2,206.00 409.2,206.00 410.2,206.00 411.2,206.00 412.2,206.00 413.2,206.00 414.2,206.00 415.2,206.00 416.2,206.00 417.2,206.00 418.2,206.00 419.2,206.00 420.2,206.00 421.2,206.00 422.2,206.00 423.2,206.00 424.2,206.00 425.2,206.00 426.2,206.00 427.2,206.00 428.2,206.00 429.2,206.00 430.7,206.00" fill="none" stroke="#000" stroke-width="1.42" stroke-linejoin="round"/>
<polygon points="254.2,225.80 254.2,225.80 255.2,225.80 256.2,225.80 257.2,225.80 258.2,225.80 259.2,225.80 260.2,225.80 261.2,225.80 262.2,225.80 263.2,225.80 264.2,225.80 265.2,225.80 266.2,225.80 267.2,225.80 268.2,225.80 269.2,225.80 270.2,225.80 271.2,225.80 272.2,225.80 273.2,225.80 274.2,225.80 275.2,225.80 276.2,225.80 277.2,225.80 278.2,225.80 279.2,225.80 280.2,225.80 281.2,225.80 282.2,225.80 283.2,225.80 284.2,225.80 285.2,225.80 286.2,225.80 287.2,225.80 288.2,225.80 289.2,225.80 290.2,225.80 291.2,225.80 292.2,225.80 293.2,225.80 294.2,225.80 295.2,225.80 296.2,225.80 297.2,225.80 298.2,225.78 299.2,225.73 300.2,225.63 301.2,225.46 302.2,225.22 303.2,224.92 304.2,224.55 305.2,224.07 306.2,223.41 307.2,222.52 308.2,221.41 309.2,220.12 310.2,218.66 311.2,217.03 312.2,215.23 313.2,213.32 314.2,211.33 315.2,209.28 316.2,207.19 317.2,205.09 318.2,203.01 319.2,200.99 320.2,199.04 321.2,197.15 322.2,195.27 323.2,193.40 324.2,191.53 325.2,189.77 326.2,188.21 327.2,186.91 328.2,185.84 329.2,185.02 330.2,184.49 331.2,184.30 332.2,184.44 333.2,184.85 334.2,185.47 335.2,186.29 336.2,187.35 337.2,188.66 338.2,190.15 339.2,191.73 340.2,193.33 341.2,194.95 342.2,196.58 343.2,198.20 344.2,199.82 345.2,201.43 346.2,203.00 347.2,204.52 348.2,205.96 349.2,207.34 350.2,208.66 351.2,209.92 352.2,211.13 353.2,212.29 354.2,213.41 355.2,214.46 356.2,215.46 357.2,216.39 358.2,217.26 359.2,218.06 360.2,218.80 361.2,219.47 362.2,220.08 363.2,220.64 364.2,221.15 365.2,221.63 366.2,222.08 367.2,222.51 368.2,222.89 369.2,223.24 370.2,223.54 371.2,223.80 372.2,224.04 373.2,224.26 374.2,224.47 375.2,224.65 376.2,224.82 377.2,224.96 378.2,225.08 379.2,225.18 380.2,225.27 381.2,225.35 382.2,225.42 383.2,225.49 384.2,225.56 385.2,225.62 386.2,225.67 387.2,225.71 388.2,225.75 389.2,225.77 390.2,225.79 391.2,225.80 392.2,225.80 393.2,225.80 394.2,225.80 395.2,225.80 396.2,225.80 397.2,225.80 398.2,225.80 399.2,225.80 400.2,225.80 401.2,225.80 402.2,225.80 403.2,225.80 404.2,225.80 405.2,225.80 406.2,225.80 407.2,225.80 408.2,225.80 409.2,225.80 410.2,225.80 411.2,225.80 412.2,225.80 413.2,225.80 414.2,225.80 415.2,225.80 416.2,225.80 417.2,225.80 418.2,225.80 419.2,225.80 420.2,225.80 421.2,225.80 422.2,225.80 423.2,225.80 424.2,225.80 425.2,225.80 426.2,225.80 427.2,225.80 428.2,225.80 429.2,225.80 430.7,225.80 430.7,225.80" fill="#b3b3b3" fill-opacity="0.5"/>
<polyline points="254.2,225.80 255.2,225.80 256.2,225.80 257.2,225.80 258.2,225.80 259.2,225.80 260.2,225.80 261.2,225.80 262.2,225.80 263.2,225.80 264.2,225.80 265.2,225.80 266.2,225.80 267.2,225.80 268.2,225.80 269.2,225.80 270.2,225.80 271.2,225.80 272.2,225.80 273.2,225.80 274.2,225.80 275.2,225.80 276.2,225.80 277.2,225.80 278.2,225.80 279.2,225.80 280.2,225.80 281.2,225.80 282.2,225.80 283.2,225.80 284.2,225.80 285.2,225.80 286.2,225.80 287.2,225.80 288.2,225.80 289.2,225.80 290.2,225.80 291.2,225.80 292.2,225.80 293.2,225.80 294.2,225.80 295.2,225.80 296.2,225.80 297.2,225.80 298.2,225.78 299.2,225.73 300.2,225.63 301.2,225.46 302.2,225.22 303.2,224.92 304.2,224.55 305.2,224.07 306.2,223.41 307.2,222.52 308.2,221.41 309.2,220.12 310.2,218.66 311.2,217.03 312.2,215.23 313.2,213.32 314.2,211.33 315.2,209.28 316.2,207.19 317.2,205.09 318.2,203.01 319.2,200.99 320.2,199.04 321.2,197.15 322.2,195.27 323.2,193.40 324.2,191.53 325.2,189.77 326.2,188.21 327.2,186.91 328.2,185.84 329.2,185.02 330.2,184.49 331.2,184.30 332.2,184.44 333.2,184.85 334.2,185.47 335.2,186.29 336.2,187.35 337.2,188.66 338.2,190.15 339.2,191.73 340.2,193.33 341.2,194.95 342.2,196.58 343.2,198.20 344.2,199.82 345.2,201.43 346.2,203.00 347.2,204.52 348.2,205.96 349.2,207.34 350.2,208.66 351.2,209.92 352.2,211.13 353.2,212.29 354.2,213.41 355.2,214.46 356.2,215.46 357.2,216.39 358.2,217.26 359.2,218.06 360.2,218.80 361.2,219.47 362.2,220.08 363.2,220.64 364.2,221.15 365.2,221.63 366.2,222.08 367.2,222.51 368.2,222.89 369.2,223.24 370.2,223.54 371.2,223.80 372.2,224.04 373.2,224.26 374.2,224.47 375.2,224.65 376.2,224.82 377.2,224.96 378.2,225.08 379.2,225.18 380.2,225.27 381.2,225.35 382.2,225.42 383.2,225.49 384.2,225.56 385.2,225.62 386.2,225.67 387.2,225.71 388.2,225.75 389.2,225.77 390.2,225.79 391.2,225.80 392.2,225.80 393.2,225.80 394.2,225.80 395.2,225.80 396.2,225.80 397.2,225.80 398.2,225.80 399.2,225.80 400.2,225.80 401.2,225.80 402.2,225.80 403.2,225.80 404.2,225.80 405.2,225.80 406.2,225.80 407.2,225.80 408.2,225.80 409.2,225.80 410.2,225.80 411.2,225.80 412.2,225.80 413.2,225.80 414.2,225.80 415.2,225.80 416.2,225.80 417.2,225.80 418.2,225.80 419.2,225.80 420.2,225.80 421.2,225.80 422.2,225.80 423.2,225.80 424.2,225.80 425.2,225.80 426.2,225.80 427.2,225.80 428.2,225.80 429.2,225.80 430.7,225.80" fill="none" stroke="#000" stroke-width="1.42" stroke-linejoin="round"/>
<polygon points="254.2,245.60 254.2,245.60 255.2,245.60 256.2,245.60 257.2,245.60 258.2,245.60 259.2,245.60 260.2,245.60 261.2,245.60 262.2,245.60 263.2,245.60 264.2,245.60 265.2,245.60 266.2,245.60 267.2,245.60 268.2,245.60 269.2,245.60 270.2,245.60 271.2,245.60 272.2,245.60 273.2,245.60 274.2,245.60 275.2,245.60 276.2,245.60 277.2,245.60 278.2,245.60 279.2,245.60 280.2,245.60 281.2,245.60 282.2,245.60 283.2,245.60 284.2,245.60 285.2,245.60 286.2,245.60 287.2,245.60 288.2,245.60 289.2,245.60 290.2,245.59 291.2,245.56 292.2,245.50 293.2,245.41 294.2,245.30 295.2,245.16 296.2,244.99 297.2,244.74 298.2,244.39 299.2,243.94 300.2,243.41 301.2,242.79 302.2,242.10 303.2,241.33 304.2,240.37 305.2,239.11 306.2,237.56 307.2,235.79 308.2,233.87 309.2,231.78 310.2,229.39 311.2,226.76 312.2,224.01 313.2,221.26 314.2,218.56 315.2,215.83 316.2,213.08 317.2,210.43 318.2,207.98 319.2,205.70 320.2,203.46 321.2,201.52 322.2,200.37 323.2,200.20 324.2,200.70 325.2,201.52 326.2,202.47 327.2,203.49 328.2,204.66 329.2,205.96 330.2,207.35 331.2,208.77 332.2,210.21 333.2,211.69 334.2,213.23 335.2,214.84 336.2,216.54 337.2,218.40 338.2,220.45 339.2,222.63 340.2,224.76 341.2,226.71 342.2,228.40 343.2,229.88 344.2,231.25 345.2,232.51 346.2,233.68 347.2,234.77 348.2,235.80 349.2,236.77 350.2,237.68 351.2,238.52 352.2,239.27 353.2,239.96 354.2,240.59 355.2,241.19 356.2,241.75 357.2,242.25 358.2,242.68 359.2,243.06 360.2,243.38 361.2,243.67 362.2,243.93 363.2,244.17 364.2,244.37 365.2,244.54 366.2,244.68 367.2,244.80 368.2,244.91 369.2,245.01 370.2,245.10 371.2,245.18 372.2,245.25 373.2,245.31 374.2,245.36 375.2,245.40 376.2,245.43 377.2,245.46 378.2,245.49 379.2,245.52 380.2,245.54 381.2,245.56 382.2,245.58 383.2,245.59 384.2,245.60 385.2,245.60 386.2,245.60 387.2,245.60 388.2,245.60 389.2,245.60 390.2,245.60 391.2,245.60 392.2,245.60 393.2,245.60 394.2,245.60 395.2,245.60 396.2,245.60 397.2,245.60 398.2,245.60 399.2,245.60 400.2,245.60 401.2,245.60 402.2,245.60 403.2,245.60 404.2,245.60 405.2,245.60 406.2,245.60 407.2,245.60 408.2,245.60 409.2,245.60 410.2,245.60 411.2,245.60 412.2,245.60 413.2,245.60 414.2,245.60 415.2,245.60 416.2,245.60 417.2,245.60 418.2,245.60 419.2,245.60 420.2,245.60 421.2,245.60 422.2,245.60 423.2,245.60 424.2,245.60 425.2,245.60 426.2,245.60 427.2,245.60 428.2,245.60 429.2,245.60 430.7,245.60 430.7,245.60" fill="#b3b3b3" fill-opacity="0.5"/>
<polyline points="254.2,245.60 255.2,245.60 256.2,245.60 257.2,245.60 258.2,245.60 259.2,245.60 260.2,245.60 261.2,245.60 262.2,245.60 263.2,245.60 264.2,245.60 265.2,245.60 266.2,245.60 267.2,245.60 268.2,245.60 269.2,245.60 270.2,245.60 271.2,245.60 272.2,245.60 273.2,245.60 274.2,245.60 275.2,245.60 276.2,245.60 277.2,245.60 278.2,245.60 279.2,245.60 280.2,245.60 281.2,245.60 282.2,245.60 283.2,245.60 284.2,245.60 285.2,245.60 286.2,245.60 287.2,245.60 288.2,245.60 289.2,245.60 290.2,245.59 291.2,245.56 292.2,245.50 293.2,245.41 294.2,245.30 295.2,245.16 296.2,244.99 297.2,244.74 298.2,244.39 299.2,243.94 300.2,243.41 301.2,242.79 302.2,242.10 303.2,241.33 304.2,240.37 305.2,239.11 306.2,237.56 307.2,235.79 308.2,233.87 309.2,231.78 310.2,229.39 311.2,226.76 312.2,224.01 313.2,221.26 314.2,218.56 315.2,215.83 316.2,213.08 317.2,210.43 318.2,207.98 319.2,205.70 320.2,203.46 321.2,201.52 322.2,200.37 323.2,200.20 324.2,200.70 325.2,201.52 326.2,202.47 327.2,203.49 328.2,204.66 329.2,205.96 330.2,207.35 331.2,208.77 332.2,210.21 333.2,211.69 334.2,213.23 335.2,214.84 336.2,216.54 337.2,218.40 338.2,220.45 339.2,222.63 340.2,224.76 341.2,226.71 342.2,228.40 343.2,229.88 344.2,231.25 345.2,232.51 346.2,233.68 347.2,234.77 348.2,235.80 349.2,236.77 350.2,237.68 351.2,238.52 352.2,239.27 353.2,239.96 354.2,240.59 355.2,241.19 356.2,241.75 357.2,242.25 358.2,242.68 359.2,243.06 360.2,243.38 361.2,243.67 362.2,243.93 363.2,244.17 364.2,244.37 365.2,244.54 366.2,244.68 367.2,244.80 368.2,244.91 369.2,245.01 370.2,245.10 371.2,245.18 372.2,245.25 373.2,245.31 374.2,245.36 375.2,245.40 376.2,245.43 377.2,245.46 378.2,245.49 379.2,245.52 380.2,245.54 381.2,245.56 382.2,245.58 383.2,245.59 384.2,245.60 385.2,245.60 386.2,245.60 387.2,245.60 388.2,245.60 389.2,245.60 390.2,245.60 391.2,245.60 392.2,245.60 393.2,245.60 394.2,245.60 395.2,245.60 396.2,245.60 397.2,245.60 398.2,245.60 399.2,245.60 400.2,245.60 401.2,245.60 402.2,245.60 403.2,245.60 404.2,245.60 405.2,245.60 406.2,245.60 407.2,245.60 408.2,245.60 409.2,245.60 410.2,245.60 411.2,245.60 412.2,245.60 413.2,245.60 414.2,245.60 415.2,245.60 416.2,245.60 417.2,245.60 418.2,245.60 419.2,245.60 420.2,245.60 421.2,245.60 422.2,245.60 423.2,245.60 424.2,245.60 425.2,245.60 426.2,245.60 427.2,245.60 428.2,245.60 429.2,245.60 430.7,245.60" fill="none" stroke="#000" stroke-width="1.42" stroke-linejoin="round"/>
<polygon points="254.2,255.50 254.2,255.50 255.2,255.50 256.2,255.50 257.2,255.50 258.2,255.50 259.2,255.50 260.2,255.50 261.2,255.50 262.2,255.50 263.2,255.50 264.2,255.50 265.2,255.50 266.2,255.50 267.2,255.50 268.2,255.50 269.2,255.50 270.2,255.50 271.2,255.50 272.2,255.50 273.2,255.50 274.2,255.50 275.2,255.50 276.2,255.50 277.2,255.50 278.2,255.50 279.2,255.50 280.2,255.50 281.2,255.50 282.2,255.50 283.2,255.50 284.2,255.50 285.2,255.50 286.2,255.50 287.2,255.50 288.2,255.49 289.2,255.46 290.2,255.39 291.2,255.28 292.2,255.15 293.2,254.98 294.2,254.72 295.2,254.31 296.2,253.74 297.2,253.02 298.2,252.17 299.2,251.19 300.2,250.10 301.2,248.75 302.2,246.84 303.2,244.35 304.2,241.53 305.2,238.66 306.2,235.97 307.2,233.41 308.2,230.87 309.2,228.34 310.2,225.82 311.2,223.28 312.2,220.64 313.2,218.01 314.2,215.71 315.2,213.91 316.2,212.43 317.2,211.23 318.2,210.50 319.2,210.44 320.2,211.05 321.2,212.08 322.2,213.33 323.2,214.83 324.2,216.58 325.2,218.40 326.2,220.11 327.2,221.63 328.2,223.02 329.2,224.37 330.2,225.72 331.2,227.13 332.2,228.66 333.2,230.32 334.2,232.07 335.2,233.82 336.2,235.52 337.2,237.17 338.2,238.79 339.2,240.37 340.2,241.88 341.2,243.27 342.2,244.53 343.2,245.71 344.2,246.81 345.2,247.82 346.2,248.72 347.2,249.50 348.2,250.18 349.2,250.79 350.2,251.33 351.2,251.82 352.2,252.24 353.2,252.62 354.2,252.96 355.2,253.27 356.2,253.55 357.2,253.81 358.2,254.04 359.2,254.24 360.2,254.42 361.2,254.59 362.2,254.75 363.2,254.89 364.2,255.01 365.2,255.12 366.2,255.20 367.2,255.28 368.2,255.34 369.2,255.40 370.2,255.45 371.2,255.48 372.2,255.50 373.2,255.50 374.2,255.50 375.2,255.50 376.2,255.50 377.2,255.50 378.2,255.50 379.2,255.50 380.2,255.50 381.2,255.50 382.2,255.50 383.2,255.50 384.2,255.50 385.2,255.50 386.2,255.50 387.2,255.50 388.2,255.50 389.2,255.50 390.2,255.50 391.2,255.50 392.2,255.50 393.2,255.50 394.2,255.50 395.2,255.50 396.2,255.50 397.2,255.50 398.2,255.50 399.2,255.50 400.2,255.50 401.2,255.50 402.2,255.50 403.2,255.50 404.2,255.50 405.2,255.50 406.2,255.50 407.2,255.50 408.2,255.50 409.2,255.50 410.2,255.50 411.2,255.50 412.2,255.50 413.2,255.50 414.2,255.50 415.2,255.50 416.2,255.50 417.2,255.50 418.2,255.50 419.2,255.50 420.2,255.50 421.2,255.50 422.2,255.50 423.2,255.50 424.2,255.50 425.2,255.50 426.2,255.50 427.2,255.50 428.2,255.50 429.2,255.50 430.7,255.50 430.7,255.50" fill="#b3b3b3" fill-opacity="0.5"/>
<polyline points="254.2,255.50 255.2,255.50 256.2,255.50 257.2,255.50 258.2,255.50 259.2,255.50 260.2,255.50 261.2,255.50 262.2,255.50 263.2,255.50 264.2,255.50 265.2,255.50 266.2,255.50 267.2,255.50 268.2,255.50 269.2,255.50 270.2,255.50 271.2,255.50 272.2,255.50 273.2,255.50 274.2,255.50 275.2,255.50 276.2,255.50 277.2,255.50 278.2,255.50 279.2,255.50 280.2,255.50 281.2,255.50 282.2,255.50 283.2,255.50 284.2,255.50 285.2,255.50 286.2,255.50 287.2,255.50 288.2,255.49 289.2,255.46 290.2,255.39 291.2,255.28 292.2,255.15 293.2,254.98 294.2,254.72 295.2,254.31 296.2,253.74 297.2,253.02 298.2,252.17 299.2,251.19 300.2,250.10 301.2,248.75 302.2,246.84 303.2,244.35 304.2,241.53 305.2,238.66 306.2,235.97 307.2,233.41 308.2,230.87 309.2,228.34 310.2,225.82 311.2,223.28 312.2,220.64 313.2,218.01 314.2,215.71 315.2,213.91 316.2,212.43 317.2,211.23 318.2,210.50 319.2,210.44 320.2,211.05 321.2,212.08 322.2,213.33 323.2,214.83 324.2,216.58 325.2,218.40 326.2,220.11 327.2,221.63 328.2,223.02 329.2,224.37 330.2,225.72 331.2,227.13 332.2,228.66 333.2,230.32 334.2,232.07 335.2,233.82 336.2,235.52 337.2,237.17 338.2,238.79 339.2,240.37 340.2,241.88 341.2,243.27 342.2,244.53 343.2,245.71 344.2,246.81 345.2,247.82 346.2,248.72 347.2,249.50 348.2,250.18 349.2,250.79 350.2,251.33 351.2,251.82 352.2,252.24 353.2,252.62 354.2,252.96 355.2,253.27 356.2,253.55 357.2,253.81 358.2,254.04 359.2,254.24 360.2,254.42 361.2,254.59 362.2,254.75 363.2,254.89 364.2,255.01 365.2,255.12 366.2,255.20 367.2,255.28 368.2,255.34 369.2,255.40 370.2,255.45 371.2,255.48 372.2,255.50 373.2,255.50 374.2,255.50 375.2,255.50 376.2,255.50 377.2,255.50 378.2,255.50 379.2,255.50 380.2,255.50 381.2,255.50 382.2,255.50 383.2,255.50 384.2,255.50 385.2,255.50 386.2,255.50 387.2,255.50 388.2,255.50 389.2,255.50 390.2,255.50 391.2,255.50 392.2,255.50 393.2,255.50 394.2,255.50 395.2,255.50 396.2,255.50 397.2,255.50 398.2,255.50 399.2,255.50 400.2,255.50 401.2,255.50 402.2,255.50 403.2,255.50 404.2,255.50 405.2,255.50 406.2,255.50 407.2,255.50 408.2,255.50 409.2,255.50 410.2,255.50 411.2,255.50 412.2,255.50 413.2,255.50 414.2,255.50 415.2,255.50 416.2,255.50 417.2,255.50 418.2,255.50 419.2,255.50 420.2,255.50 421.2,255.50 422.2,255.50 423.2,255.50 424.2,255.50 425.2,255.50 426.2,255.50 427.2,255.50 428.2,255.50 429.2,255.50 430.7,255.50" fill="none" stroke="#000" stroke-width="1.42" stroke-linejoin="round"/>
<polygon points="254.2,263.42 254.2,263.42 255.2,263.42 256.2,263.42 257.2,263.42 258.2,263.42 259.2,263.42 260.2,263.42 261.2,263.42 262.2,263.42 263.2,263.42 264.2,263.42 265.2,263.42 266.2,263.42 267.2,263.40 268.2,263.32 269.2,263.16 270.2,262.95 271.2,262.66 272.2,262.29 273.2,261.85 274.2,261.34 275.2,260.76 276.2,260.13 277.2,259.45 278.2,258.72 279.2,257.95 280.2,257.10 281.2,256.10 282.2,254.91 283.2,253.57 284.2,252.10 285.2,250.52 286.2,248.87 287.2,247.16 288.2,245.33 289.2,243.30 290.2,241.12 291.2,238.89 292.2,236.71 293.2,234.59 294.2,232.46 295.2,230.43 296.2,228.66 297.2,227.23 298.2,226.03 299.2,224.99 300.2,224.20 301.2,223.68 302.2,223.35 303.2,223.11 304.2,222.94 305.2,222.86 306.2,222.96 307.2,223.28 308.2,223.93 309.2,225.20 310.2,226.94 311.2,228.71 312.2,230.44 313.2,232.16 314.2,233.86 315.2,235.52 316.2,237.15 317.2,238.75 318.2,240.31 319.2,241.83 320.2,243.30 321.2,244.75 322.2,246.15 323.2,247.51 324.2,248.80 325.2,250.02 326.2,251.21 327.2,252.35 328.2,253.41 329.2,254.38 330.2,255.25 331.2,256.04 332.2,256.77 333.2,257.43 334.2,258.04 335.2,258.59 336.2,259.10 337.2,259.57 338.2,260.00 339.2,260.38 340.2,260.72 341.2,261.03 342.2,261.31 343.2,261.56 344.2,261.80 345.2,262.00 346.2,262.18 347.2,262.33 348.2,262.48 349.2,262.61 350.2,262.73 351.2,262.84 352.2,262.93 353.2,263.01 354.2,263.08 355.2,263.14 356.2,263.21 357.2,263.26 358.2,263.31 359.2,263.36 360.2,263.39 361.2,263.41 362.2,263.42 363.2,263.42 364.2,263.42 365.2,263.42 366.2,263.42 367.2,263.42 368.2,263.42 369.2,263.42 370.2,263.42 371.2,263.42 372.2,263.42 373.2,263.42 374.2,263.42 375.2,263.42 376.2,263.42 377.2,263.42 378.2,263.42 379.2,263.42 380.2,263.42 381.2,263.42 382.2,263.42 383.2,263.42 384.2,263.42 385.2,263.42 386.2,263.42 387.2,263.42 388.2,263.42 389.2,263.42 390.2,263.42 391.2,263.42 392.2,263.42 393.2,263.42 394.2,263.42 395.2,263.42 396.2,263.42 397.2,263.42 398.2,263.42 399.2,263.42 400.2,263.42 401.2,263.42 402.2,263.42 403.2,263.42 404.2,263.42 405.2,263.42 406.2,263.42 407.2,263.42 408.2,263.42 409.2,263.42 410.2,263.42 411.2,263.42 412.2,263.42 413.2,263.42 414.2,263.42 415.2,263.42 416.2,263.42 417.2,263.42 418.2,263.42 419.2,263.42 420.2,263.42 421.2,263.42 422.2,263.42 423.2,263.42 424.2,263.42 425.2,263.42 426.2,263.42 427.2,263.42 428.2,263.42 429.2,263.42 430.7,263.42 430.7,263.42" fill="#b3b3b3" fill-opacity="0.5"/>
<polyline points="254.2,263.42 255.2,263.42 256.2,263.42 257.2,263.42 258.2,263.42 259.2,263.42 260.2,263.42 261.2,263.42 262.2,263.42 263.2,263.42 264.2,263.42 265.2,263.42 266.2,263.42 267.2,263.40 268.2,263.32 269.2,263.16 270.2,262.95 271.2,262.66 272.2,262.29 273.2,261.85 274.2,261.34 275.2,260.76 276.2,260.13 277.2,259.45 278.2,258.72 279.2,257.95 280.2,257.10 281.2,256.10 282.2,254.91 283.2,253.57 284.2,252.10 285.2,250.52 286.2,248.87 287.2,247.16 288.2,245.33 289.2,243.30 290.2,241.12 291.2,238.89 292.2,236.71 293.2,234.59 294.2,232.46 295.2,230.43 296.2,228.66 297.2,227.23 298.2,226.03 299.2,224.99 300.2,224.20 301.2,223.68 302.2,223.35 303.2,223.11 304.2,222.94 305.2,222.86 306.2,222.96 307.2,223.28 308.2,223.93 309.2,225.20 310.2,226.94 311.2,228.71 312.2,230.44 313.2,232.16 314.2,233.86 315.2,235.52 316.2,237.15 317.2,238.75 318.2,240.31 319.2,241.83 320.2,243.30 321.2,244.75 322.2,246.15 323.2,247.51 324.2,248.80 325.2,250.02 326.2,251.21 327.2,252.35 328.2,253.41 329.2,254.38 330.2,255.25 331.2,256.04 332.2,256.77 333.2,257.43 334.2,258.04 335.2,258.59 336.2,259.10 337.2,259.57 338.2,260.00 339.2,260.38 340.2,260.72 341.2,261.03 342.2,261.31 343.2,261.56 344.2,261.80 345.2,262.00 346.2,262.18 347.2,262.33 348.2,262.48 349.2,262.61 350.2,262.73 351.2,262.84 352.2,262.93 353.2,263.01 354.2,263.08 355.2,263.14 356.2,263.21 357.2,263.26 358.2,263.31 359.2,263.36 360.2,263.39 361.2,263.41 362.2,263.42 363.2,263.42 364.2,263.42 365.2,263.42 366.2,263.42 367.2,263.42 368.2,263.42 369.2,263.42 370.2,263.42 371.2,263.42 372.2,263.42 373.2,263.42 374.2,263.42 375.2,263.42 376.2,263.42 377.2,263.42 378.2,263.42 379.2,263.42 380.2,263.42 381.2,263.42 382.2,263.42 383.2,263.42 384.2,263.42 385.2,263.42 386.2,263.42 387.2,263.42 388.2,263.42 389.2,263.42 390.2,263.42 391.2,263.42 392.2,263.42 393.2,263.42 394.2,263.42 395.2,263.42 396.2,263.42 397.2,263.42 398.2,263.42 399.2,263.42 400.2,263.42 401.2,263.42 402.2,263.42 403.2,263.42 404.2,263.42 405.2,263.42 406.2,263.42 407.2,263.42 408.2,263.42 409.2,263.42 410.2,263.42 411.2,263.42 412.2,263.42 413.2,263.42 414.2,263.42 415.2,263.42 416.2,263.42 417.2,263.42 418.2,263.42 419.2,263.42 420.2,263.42 421.2,263.42 422.2,263.42 423.2,263.42 424.2,263.42 425.2,263.42 426.2,263.42 427.2,263.42 428.2,263.42 429.2,263.42 430.7,263.42" fill="none" stroke="#000" stroke-width="1.42" stroke-linejoin="round"/>
<polygon points="254.2,265.40 254.2,265.40 255.2,265.40 256.2,265.40 257.2,265.40 258.2,265.40 259.2,265.40 260.2,265.40 261.2,265.40 262.2,265.39 263.2,265.33 264.2,265.23 265.2,265.05 266.2,264.73 267.2,264.20 268.2,263.46 269.2,262.57 270.2,261.52 271.2,260.17 272.2,258.38 273.2,256.24 274.2,253.88 275.2,251.45 276.2,248.91 277.2,246.18 278.2,243.29 279.2,240.34 280.2,237.41 281.2,234.46 282.2,231.44 283.2,228.61 284.2,226.27 285.2,224.36 286.2,222.73 287.2,221.50 288.2,220.80 289.2,220.50 290.2,220.33 291.2,220.23 292.2,220.23 293.2,220.39 294.2,220.73 295.2,221.23 296.2,222.07 297.2,223.55 298.2,225.58 299.2,227.75 300.2,229.83 301.2,231.89 302.2,233.95 303.2,235.95 304.2,237.88 305.2,239.75 306.2,241.57 307.2,243.33 308.2,245.05 309.2,246.72 310.2,248.37 311.2,249.97 312.2,251.49 313.2,252.88 314.2,254.14 315.2,255.31 316.2,256.40 317.2,257.40 318.2,258.30 319.2,259.10 320.2,259.85 321.2,260.55 322.2,261.20 323.2,261.78 324.2,262.29 325.2,262.71 326.2,263.06 327.2,263.37 328.2,263.65 329.2,263.89 330.2,264.11 331.2,264.31 332.2,264.49 333.2,264.66 334.2,264.82 335.2,264.97 336.2,265.11 337.2,265.22 338.2,265.32 339.2,265.38 340.2,265.40 341.2,265.40 342.2,265.40 343.2,265.40 344.2,265.40 345.2,265.40 346.2,265.40 347.2,265.40 348.2,265.40 349.2,265.40 350.2,265.40 351.2,265.40 352.2,265.40 353.2,265.40 354.2,265.40 355.2,265.40 356.2,265.40 357.2,265.40 358.2,265.40 359.2,265.40 360.2,265.40 361.2,265.40 362.2,265.40 363.2,265.40 364.2,265.40 365.2,265.40 366.2,265.40 367.2,265.40 368.2,265.40 369.2,265.40 370.2,265.40 371.2,265.40 372.2,265.40 373.2,265.40 374.2,265.40 375.2,265.40 376.2,265.40 377.2,265.40 378.2,265.40 379.2,265.40 380.2,265.40 381.2,265.40 382.2,265.40 383.2,265.40 384.2,265.40 385.2,265.40 386.2,265.40 387.2,265.40 388.2,265.40 389.2,265.40 390.2,265.40 391.2,265.40 392.2,265.40 393.2,265.40 394.2,265.40 395.2,265.40 396.2,265.40 397.2,265.40 398.2,265.40 399.2,265.40 400.2,265.40 401.2,265.40 402.2,265.40 403.2,265.40 404.2,265.40 405.2,265.40 406.2,265.40 407.2,265.40 408.2,265.40 409.2,265.40 410.2,265.40 411.2,265.40 412.2,265.40 413.2,265.40 414.2,265.40 415.2,265.40 416.2,265.40 417.2,265.40 418.2,265.40 419.2,265.40 420.2,265.40 421.2,265.40 422.2,265.40 423.2,265.40 424.2,265.40 425.2,265.40 426.2,265.40 427.2,265.40 428.2,265.40 429.2,265.40 430.7,265.40 430.7,265.40" fill="#b3b3b3" fill-opacity="0.5"/>
<polyline points="254.2,265.40 255.2,265.40 256.2,265.40 257.2,265.40 258.2,265.40 259.2,265.40 260.2,265.40 261.2,265.40 262.2,265.39 263.2,265.33 264.2,265.23 265.2,265.05 266.2,264.73 267.2,264.20 268.2,263.46 269.2,262.57 270.2,261.52 271.2,260.17 272.2,258.38 273.2,256.24 274.2,253.88 275.2,251.45 276.2,248.91 277.2,246.18 278.2,243.29 279.2,240.34 280.2,237.41 281.2,234.46 282.2,231.44 283.2,228.61 284.2,226.27 285.2,224.36 286.2,222.73 287.2,221.50 288.2,220.80 289.2,220.50 290.2,220.33 291.2,220.23 292.2,220.23 293.2,220.39 294.2,220.73 295.2,221.23 296.2,222.07 297.2,223.55 298.2,225.58 299.2,227.75 300.2,229.83 301.2,231.89 302.2,233.95 303.2,235.95 304.2,237.88 305.2,239.75 306.2,241.57 307.2,243.33 308.2,245.05 309.2,246.72 310.2,248.37 311.2,249.97 312.2,251.49 313.2,252.88 314.2,254.14 315.2,255.31 316.2,256.40 317.2,257.40 318.2,258.30 319.2,259.10 320.2,259.85 321.2,260.55 322.2,261.20 323.2,261.78 324.2,262.29 325.2,262.71 326.2,263.06 327.2,263.37 328.2,263.65 329.2,263.89 330.2,264.11 331.2,264.31 332.2,264.49 333.2,264.66 334.2,264.82 335.2,264.97 336.2,265.11 337.2,265.22 338.2,265.32 339.2,265.38 340.2,265.40 341.2,265.40 342.2,265.40 343.2,265.40 344.2,265.40 345.2,265.40 346.2,265.40 347.2,265.40 348.2,265.40 349.2,265.40 350.2,265.40 351.2,265.40 352.2,265.40 353.2,265.40 354.2,265.40 355.2,265.40 356.2,265.40 357.2,265.40 358.2,265.40 359.2,265.40 360.2,265.40 361.2,265.40 362.2,265.40 363.2,265.40 364.2,265.40 365.2,265.40 366.2,265.40 367.2,265.40 368.2,265.40 369.2,265.40 370.2,265.40 371.2,265.40 372.2,265.40 373.2,265.40 374.2,265.40 375.2,265.40 376.2,265.40 377.2,265.40 378.2,265.40 379.2,265.40 380.2,265.40 381.2,265.40 382.2,265.40 383.2,265.40 384.2,265.40 385.2,265.40 386.2,265.40 387.2,265.40 388.2,265.40 389.2,265.40 390.2,265.40 391.2,265.40 392.2,265.40 393.2,265.40 394.2,265.40 395.2,265.40 396.2,265.40 397.2,265.40 398.2,265.40 399.2,265.40 400.2,265.40 401.2,265.40 402.2,265.40 403.2,265.40 404.2,265.40 405.2,265.40 406.2,265.40 407.2,265.40 408.2,265.40 409.2,265.40 410.2,265.40 411.2,265.40 412.2,265.40 413.2,265.40 414.2,265.40 415.2,265.40 416.2,265.40 417.2,265.40 418.2,265.40 419.2,265.40 420.2,265.40 421.2,265.40 422.2,265.40 423.2,265.40 424.2,265.40 425.2,265.40 426.2,265.40 427.2,265.40 428.2,265.40 429.2,265.40 430.7,265.40" fill="none" stroke="#000" stroke-width="1.42" stroke-linejoin="round"/>
</g>
<text x="60.3" y="28.1" font-size="15.6" text-anchor="end" class="t">1.2</text>
<text x="60.3" y="87.5" font-size="15.6" text-anchor="end" class="t">0.9</text>
<text x="60.3" y="146.9" font-size="15.6" text-anchor="end" class="t">0.6</text>
<text x="60.3" y="206.3" font-size="15.6" text-anchor="end" class="t">0.3</text>
<text x="60.3" y="265.7" font-size="15.6" text-anchor="end" class="t">0.0</text>
<text x="72.3" y="286.6" font-size="15.6" text-anchor="middle" class="t">−3.0</text>
<text x="123.35" y="286.6" font-size="15.6" text-anchor="middle" class="t">−2.5</text>
<text x="174.4" y="286.6" font-size="15.6" text-anchor="middle" class="t">−2.0</text>
<text x="225.2" y="286.6" font-size="15.6" text-anchor="middle" class="t">−1.5</text>
<text x="274.9" y="286.6" font-size="15.6" text-anchor="middle" class="t">10</text>
<text x="323.9" y="286.6" font-size="15.6" text-anchor="middle" class="t">20</text>
<text x="372.9" y="286.6" font-size="15.6" text-anchor="middle" class="t">30</text>
<text x="421.9" y="286.6" font-size="15.6" text-anchor="middle" class="t">40</text>
<text transform="translate(28.3,48.3) rotate(-90)" font-size="18.0" class="t">eta</text>
</svg>
</body></html>
